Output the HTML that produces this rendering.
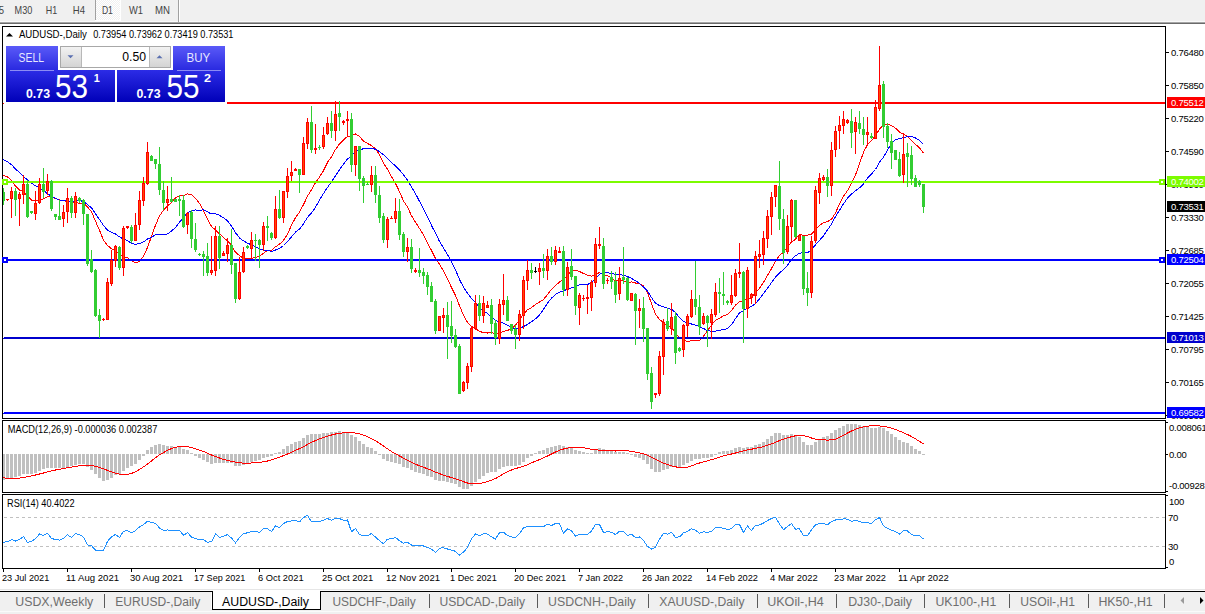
<!DOCTYPE html>
<html><head><meta charset="utf-8"><title>AUDUSD-,Daily</title>
<style>html,body{margin:0;padding:0;background:#fff;overflow:hidden}svg{display:block}text{white-space:pre}</style>
</head><body>
<svg width="1205" height="614" viewBox="0 0 1205 614" font-family="Liberation Sans, Arial, sans-serif">
<rect x="0" y="0" width="1205" height="21" fill="#f0f0f0"/>
<rect x="0" y="21" width="1205" height="1" fill="#f9f9f9"/>
<rect x="0" y="22" width="1205" height="1" fill="#a5a5a5"/>
<rect x="0" y="23" width="1205" height="1" fill="#6a6a6a"/>
<defs><pattern id="chk" width="2" height="2" patternUnits="userSpaceOnUse"><rect width="2" height="2" fill="#f0f0f0"/><rect width="1" height="1" fill="#fff"/><rect x="1" y="1" width="1" height="1" fill="#fff"/></pattern></defs>
<rect x="96" y="0" width="24" height="20" fill="url(#chk)"/>
<rect x="95" y="0" width="1" height="20" fill="#a0a0a0"/>
<rect x="120" y="0" width="1" height="20" fill="#ffffff"/>
<rect x="95" y="20" width="26" height="1" fill="#ffffff"/>
<rect x="178" y="0" width="1" height="22" fill="#a0a0a0"/>
<rect x="179" y="0" width="1" height="22" fill="#ffffff"/>
<text x="-1.2" y="13.9" font-size="10.1" fill="#444" textLength="5.3" lengthAdjust="spacingAndGlyphs">5</text>
<text x="14.6" y="13.9" font-size="10.1" fill="#444" textLength="17.7" lengthAdjust="spacingAndGlyphs">M30</text>
<text x="45.7" y="13.9" font-size="10.1" fill="#444" textLength="11.4" lengthAdjust="spacingAndGlyphs">H1</text>
<text x="72.8" y="13.9" font-size="10.1" fill="#444" textLength="12.2" lengthAdjust="spacingAndGlyphs">H4</text>
<text x="101.9" y="13.9" font-size="10.1" fill="#444" textLength="11" lengthAdjust="spacingAndGlyphs">D1</text>
<text x="129" y="13.9" font-size="10.1" fill="#444" textLength="14" lengthAdjust="spacingAndGlyphs">W1</text>
<text x="155" y="13.9" font-size="10.1" fill="#444" textLength="15" lengthAdjust="spacingAndGlyphs">MN</text>
<clipPath id="mainclip"><rect x="3" y="27" width="1162" height="391"/></clipPath>
<g clip-path="url(#mainclip)">
<polyline points="-0.5,175.0 3.5,175.5 7.5,176.8 11.5,180.7 15.5,186.1 19.5,190.0 23.5,191.6 27.5,196.1 31.5,200.0 35.5,201.1 39.5,199.8 43.5,198.8 47.5,196.8 51.5,197.0 55.5,198.6 59.5,199.9 63.5,200.8 67.5,201.3 71.5,202.2 75.5,202.4 79.5,203.5 83.5,203.3 87.5,207.0 91.5,211.8 95.5,221.2 99.5,230.3 103.5,240.2 107.5,245.5 111.5,248.7 115.5,250.6 119.5,254.6 123.5,256.8 127.5,257.8 131.5,260.9 135.5,262.7 139.5,261.7 143.5,256.0 147.5,247.5 151.5,236.4 155.5,225.2 159.5,215.9 163.5,210.2 167.5,205.9 171.5,202.6 175.5,197.9 179.5,195.8 183.5,195.8 187.5,193.9 191.5,194.8 195.5,198.3 199.5,203.4 203.5,210.8 207.5,218.8 211.5,226.5 215.5,229.9 219.5,233.8 223.5,237.6 227.5,240.7 231.5,245.3 235.5,252.3 239.5,255.6 243.5,258.3 247.5,259.0 251.5,258.3 255.5,257.4 259.5,256.5 263.5,253.2 267.5,250.2 271.5,250.2 275.5,246.8 279.5,244.2 283.5,240.4 287.5,234.1 291.5,225.1 295.5,217.7 299.5,212.1 303.5,204.6 307.5,196.2 311.5,189.6 315.5,182.8 319.5,177.1 323.5,170.6 327.5,162.4 331.5,156.7 335.5,149.4 339.5,144.0 343.5,140.1 347.5,136.3 351.5,135.9 355.5,134.0 359.5,136.5 363.5,141.0 367.5,143.5 371.5,145.5 375.5,148.9 379.5,154.7 383.5,163.0 387.5,169.3 391.5,176.7 395.5,183.5 399.5,191.6 403.5,201.0 407.5,206.9 411.5,215.7 415.5,222.2 419.5,228.5 423.5,234.9 427.5,242.9 431.5,250.5 435.5,258.5 439.5,264.1 443.5,270.9 447.5,278.7 451.5,287.5 455.5,295.6 459.5,305.7 463.5,315.3 467.5,322.3 471.5,326.5 475.5,328.6 479.5,331.4 483.5,332.6 487.5,333.0 491.5,332.5 495.5,333.9 499.5,333.1 503.5,331.3 507.5,330.3 511.5,329.1 515.5,325.0 519.5,320.1 523.5,313.9 527.5,309.8 531.5,307.6 535.5,304.5 539.5,302.0 543.5,299.5 547.5,294.7 551.5,289.3 555.5,285.5 559.5,282.0 563.5,279.7 567.5,275.2 571.5,271.0 575.5,270.4 579.5,271.5 583.5,273.5 587.5,275.3 591.5,276.1 595.5,274.4 599.5,272.6 603.5,274.5 607.5,275.8 611.5,278.0 615.5,281.0 619.5,280.3 623.5,281.1 627.5,282.8 631.5,281.9 635.5,283.0 639.5,283.7 643.5,285.9 647.5,292.4 651.5,303.7 655.5,314.3 659.5,319.6 663.5,322.6 667.5,326.0 671.5,327.6 675.5,332.9 679.5,338.0 683.5,339.8 687.5,341.5 691.5,340.7 695.5,340.5 699.5,340.4 703.5,336.3 707.5,330.6 711.5,325.0 715.5,320.3 719.5,318.2 723.5,315.8 727.5,314.7 731.5,310.7 735.5,305.2 739.5,301.4 743.5,300.8 747.5,298.7 751.5,297.8 755.5,292.8 759.5,288.4 763.5,282.4 767.5,275.4 771.5,268.6 775.5,261.0 779.5,255.5 783.5,252.0 787.5,247.1 791.5,241.9 795.5,239.3 799.5,234.1 803.5,235.4 807.5,235.2 811.5,234.2 815.5,229.6 819.5,225.4 823.5,222.6 827.5,221.7 831.5,219.2 835.5,213.0 839.5,203.9 843.5,196.3 847.5,190.6 851.5,183.1 855.5,175.0 859.5,163.6 863.5,152.3 867.5,144.6 871.5,140.7 875.5,135.6 879.5,129.1 883.5,124.9 887.5,124.2 891.5,125.7 895.5,128.1 899.5,132.1 903.5,134.5 907.5,136.2 911.5,140.2 915.5,144.3 919.5,147.9 923.5,153.2" fill="none" stroke="#ff0000" stroke-width="1" shape-rendering="crispEdges"/>
<polyline points="-0.5,157.8 3.5,159.6 7.5,161.8 11.5,164.6 15.5,169.1 19.5,172.4 23.5,176.4 27.5,180.0 31.5,183.3 35.5,185.7 39.5,188.0 43.5,190.4 47.5,193.8 51.5,196.3 55.5,198.3 59.5,200.3 63.5,200.9 67.5,201.1 71.5,201.4 75.5,200.8 79.5,200.5 83.5,201.5 87.5,204.5 91.5,207.9 95.5,213.8 99.5,219.5 103.5,225.4 107.5,230.1 111.5,232.2 115.5,233.9 119.5,236.9 123.5,239.1 127.5,240.7 131.5,243.5 135.5,244.3 139.5,243.6 143.5,241.9 147.5,239.0 151.5,237.2 155.5,234.9 159.5,234.5 163.5,234.6 167.5,233.9 171.5,230.9 175.5,227.6 179.5,222.2 183.5,217.7 187.5,212.7 191.5,210.6 195.5,210.0 199.5,210.4 203.5,209.8 207.5,211.9 211.5,214.0 215.5,213.8 219.5,215.3 223.5,217.8 227.5,220.8 231.5,226.1 235.5,232.7 239.5,237.9 243.5,240.9 247.5,243.1 251.5,245.0 255.5,246.9 259.5,248.9 263.5,250.2 267.5,250.2 271.5,251.4 275.5,250.0 279.5,248.4 283.5,245.5 287.5,241.6 291.5,236.9 295.5,232.1 299.5,229.1 303.5,223.7 307.5,217.4 311.5,212.8 315.5,207.3 319.5,200.1 323.5,193.5 327.5,187.4 331.5,181.8 335.5,175.8 339.5,169.8 343.5,164.0 347.5,158.9 351.5,155.9 355.5,151.6 359.5,150.1 363.5,148.6 367.5,148.2 371.5,148.2 375.5,149.3 379.5,151.6 383.5,154.7 387.5,158.3 391.5,162.8 395.5,165.8 399.5,169.9 403.5,174.8 407.5,180.2 411.5,187.1 415.5,193.7 419.5,201.3 423.5,208.9 427.5,216.7 431.5,225.4 435.5,233.3 439.5,241.4 443.5,247.9 447.5,254.6 451.5,261.8 455.5,269.9 459.5,279.4 463.5,287.3 467.5,293.3 471.5,298.5 475.5,302.5 479.5,307.5 483.5,310.8 487.5,313.4 491.5,317.0 495.5,320.2 499.5,321.9 503.5,323.2 507.5,325.3 511.5,327.5 515.5,329.0 519.5,328.3 523.5,326.6 527.5,324.4 531.5,321.8 535.5,318.8 539.5,315.1 543.5,309.2 547.5,303.2 551.5,298.2 555.5,294.5 559.5,292.1 563.5,290.9 567.5,289.2 571.5,287.8 575.5,286.9 579.5,284.9 583.5,284.7 587.5,284.5 591.5,282.7 595.5,278.6 599.5,274.3 603.5,272.8 607.5,272.8 611.5,273.3 615.5,274.4 619.5,274.7 623.5,275.2 627.5,276.6 631.5,278.4 635.5,280.7 639.5,283.5 643.5,287.1 647.5,291.2 651.5,297.6 655.5,303.1 659.5,305.6 663.5,306.9 667.5,308.3 671.5,309.3 675.5,312.6 679.5,317.6 683.5,321.5 687.5,323.1 691.5,324.0 695.5,325.2 699.5,326.7 703.5,328.5 707.5,330.6 711.5,331.3 715.5,331.2 719.5,330.3 723.5,329.7 727.5,328.5 731.5,324.7 735.5,318.6 739.5,312.9 743.5,310.5 747.5,308.0 751.5,306.4 755.5,303.5 759.5,298.8 763.5,293.5 767.5,288.3 771.5,282.6 775.5,277.2 779.5,273.0 783.5,269.5 787.5,265.3 791.5,259.5 795.5,255.8 799.5,253.1 803.5,252.8 807.5,252.7 811.5,249.8 815.5,244.8 819.5,240.3 823.5,235.8 827.5,229.9 831.5,224.2 835.5,216.5 839.5,210.3 843.5,203.8 847.5,198.2 851.5,194.2 855.5,190.6 859.5,187.9 863.5,183.9 867.5,178.2 871.5,173.9 875.5,169.5 879.5,162.3 883.5,157.1 887.5,150.1 891.5,143.4 895.5,139.5 899.5,138.8 903.5,137.6 907.5,136.6 911.5,136.3 915.5,138.0 919.5,140.5 923.5,144.3" fill="none" stroke="#0000ff" stroke-width="1" shape-rendering="crispEdges"/>
</g>
<g shape-rendering="crispEdges">
<rect x="3" y="103" width="1" height="1" fill="#ff0000"/>
<rect x="4" y="102" width="1162" height="2" fill="#ff0000"/>
<rect x="3" y="182" width="1" height="1" fill="#7cfc00"/>
<rect x="4" y="181" width="1162" height="2" fill="#7cfc00"/>
<rect x="3" y="260" width="1" height="1" fill="#0000ff"/>
<rect x="4" y="259" width="1162" height="2" fill="#0000ff"/>
<rect x="3" y="338" width="1" height="1" fill="#0000cd"/>
<rect x="4" y="337" width="1162" height="2" fill="#0000cd"/>
<rect x="3" y="413" width="1" height="1" fill="#0000ff"/>
<rect x="4" y="412" width="1162" height="2" fill="#0000ff"/>
<rect x="3" y="188" width="1" height="17" fill="#32cd32"/>
<rect x="2" y="192" width="3" height="9" fill="#32cd32"/>
<rect x="7" y="199" width="1" height="2" fill="#ff0000"/>
<rect x="6" y="199" width="3" height="1" fill="#ff0000"/>
<rect x="11" y="187" width="1" height="31" fill="#ff0000"/>
<rect x="10" y="191" width="3" height="8" fill="#ff0000"/>
<rect x="11" y="192" width="1" height="6" fill="#ff4a00"/>
<rect x="15" y="188" width="1" height="28" fill="#32cd32"/>
<rect x="14" y="191" width="3" height="9" fill="#32cd32"/>
<rect x="19" y="192" width="1" height="34" fill="#ff0000"/>
<rect x="18" y="194" width="3" height="5" fill="#ff0000"/>
<rect x="19" y="195" width="1" height="3" fill="#ff4a00"/>
<rect x="23" y="175" width="1" height="29" fill="#ff0000"/>
<rect x="22" y="184" width="3" height="11" fill="#ff0000"/>
<rect x="23" y="185" width="1" height="9" fill="#ff4a00"/>
<rect x="27" y="180" width="1" height="38" fill="#32cd32"/>
<rect x="26" y="184" width="3" height="33" fill="#32cd32"/>
<rect x="31" y="211" width="1" height="3" fill="#32cd32"/>
<rect x="30" y="211" width="3" height="2" fill="#32cd32"/>
<rect x="35" y="191" width="1" height="29" fill="#ff0000"/>
<rect x="34" y="203" width="3" height="11" fill="#ff0000"/>
<rect x="35" y="204" width="1" height="9" fill="#ff4a00"/>
<rect x="39" y="178" width="1" height="26" fill="#ff0000"/>
<rect x="38" y="184" width="3" height="19" fill="#ff0000"/>
<rect x="39" y="185" width="1" height="17" fill="#ff4a00"/>
<rect x="43" y="168" width="1" height="30" fill="#32cd32"/>
<rect x="42" y="184" width="3" height="8" fill="#32cd32"/>
<rect x="47" y="174" width="1" height="21" fill="#ff0000"/>
<rect x="46" y="181" width="3" height="10" fill="#ff0000"/>
<rect x="47" y="182" width="1" height="8" fill="#ff4a00"/>
<rect x="51" y="180" width="1" height="31" fill="#32cd32"/>
<rect x="50" y="181" width="3" height="28" fill="#32cd32"/>
<rect x="55" y="214" width="1" height="6" fill="#32cd32"/>
<rect x="54" y="214" width="3" height="3" fill="#32cd32"/>
<rect x="59" y="200" width="1" height="20" fill="#32cd32"/>
<rect x="58" y="216" width="3" height="4" fill="#32cd32"/>
<rect x="63" y="205" width="1" height="22" fill="#ff0000"/>
<rect x="62" y="212" width="3" height="7" fill="#ff0000"/>
<rect x="63" y="213" width="1" height="5" fill="#ff4a00"/>
<rect x="67" y="188" width="1" height="35" fill="#ff0000"/>
<rect x="66" y="198" width="3" height="14" fill="#ff0000"/>
<rect x="67" y="199" width="1" height="12" fill="#ff4a00"/>
<rect x="71" y="196" width="1" height="22" fill="#32cd32"/>
<rect x="70" y="198" width="3" height="15" fill="#32cd32"/>
<rect x="75" y="192" width="1" height="26" fill="#ff0000"/>
<rect x="74" y="196" width="3" height="17" fill="#ff0000"/>
<rect x="75" y="197" width="1" height="15" fill="#ff4a00"/>
<rect x="79" y="197" width="1" height="6" fill="#32cd32"/>
<rect x="78" y="198" width="3" height="3" fill="#32cd32"/>
<rect x="83" y="199" width="1" height="26" fill="#32cd32"/>
<rect x="82" y="200" width="3" height="14" fill="#32cd32"/>
<rect x="87" y="214" width="1" height="52" fill="#32cd32"/>
<rect x="86" y="214" width="3" height="50" fill="#32cd32"/>
<rect x="91" y="250" width="1" height="23" fill="#32cd32"/>
<rect x="90" y="259" width="3" height="13" fill="#32cd32"/>
<rect x="95" y="269" width="1" height="48" fill="#32cd32"/>
<rect x="94" y="270" width="3" height="46" fill="#32cd32"/>
<rect x="99" y="309" width="1" height="29" fill="#32cd32"/>
<rect x="98" y="315" width="3" height="6" fill="#32cd32"/>
<rect x="103" y="318" width="1" height="3" fill="#ff0000"/>
<rect x="102" y="319" width="3" height="1" fill="#ff0000"/>
<rect x="107" y="278" width="1" height="42" fill="#ff0000"/>
<rect x="106" y="282" width="3" height="38" fill="#ff0000"/>
<rect x="107" y="283" width="1" height="36" fill="#ff4a00"/>
<rect x="111" y="250" width="1" height="36" fill="#ff0000"/>
<rect x="110" y="260" width="3" height="24" fill="#ff0000"/>
<rect x="111" y="261" width="1" height="22" fill="#ff4a00"/>
<rect x="115" y="245" width="1" height="22" fill="#ff0000"/>
<rect x="114" y="246" width="3" height="15" fill="#ff0000"/>
<rect x="115" y="247" width="1" height="13" fill="#ff4a00"/>
<rect x="119" y="246" width="1" height="24" fill="#32cd32"/>
<rect x="118" y="247" width="3" height="21" fill="#32cd32"/>
<rect x="123" y="226" width="1" height="50" fill="#ff0000"/>
<rect x="122" y="228" width="3" height="40" fill="#ff0000"/>
<rect x="123" y="229" width="1" height="38" fill="#ff4a00"/>
<rect x="127" y="226" width="1" height="3" fill="#ff0000"/>
<rect x="126" y="226" width="3" height="2" fill="#ff0000"/>
<rect x="131" y="225" width="1" height="18" fill="#32cd32"/>
<rect x="130" y="227" width="3" height="14" fill="#32cd32"/>
<rect x="135" y="213" width="1" height="28" fill="#ff0000"/>
<rect x="134" y="225" width="3" height="16" fill="#ff0000"/>
<rect x="135" y="226" width="1" height="14" fill="#ff4a00"/>
<rect x="139" y="191" width="1" height="39" fill="#ff0000"/>
<rect x="138" y="200" width="3" height="25" fill="#ff0000"/>
<rect x="139" y="201" width="1" height="23" fill="#ff4a00"/>
<rect x="143" y="177" width="1" height="29" fill="#ff0000"/>
<rect x="142" y="183" width="3" height="18" fill="#ff0000"/>
<rect x="143" y="184" width="1" height="16" fill="#ff4a00"/>
<rect x="147" y="142" width="1" height="43" fill="#ff0000"/>
<rect x="146" y="152" width="3" height="32" fill="#ff0000"/>
<rect x="147" y="153" width="1" height="30" fill="#ff4a00"/>
<rect x="151" y="155" width="1" height="6" fill="#32cd32"/>
<rect x="150" y="156" width="3" height="5" fill="#32cd32"/>
<rect x="155" y="159" width="1" height="10" fill="#32cd32"/>
<rect x="154" y="159" width="3" height="5" fill="#32cd32"/>
<rect x="159" y="147" width="1" height="48" fill="#32cd32"/>
<rect x="158" y="164" width="3" height="26" fill="#32cd32"/>
<rect x="163" y="181" width="1" height="29" fill="#32cd32"/>
<rect x="162" y="190" width="3" height="13" fill="#32cd32"/>
<rect x="167" y="186" width="1" height="25" fill="#ff0000"/>
<rect x="166" y="199" width="3" height="4" fill="#ff0000"/>
<rect x="167" y="200" width="1" height="2" fill="#ff4a00"/>
<rect x="171" y="177" width="1" height="25" fill="#32cd32"/>
<rect x="170" y="199" width="3" height="3" fill="#32cd32"/>
<rect x="175" y="199" width="1" height="3" fill="#32cd32"/>
<rect x="174" y="199" width="3" height="3" fill="#32cd32"/>
<rect x="179" y="195" width="1" height="21" fill="#32cd32"/>
<rect x="178" y="199" width="3" height="2" fill="#32cd32"/>
<rect x="183" y="195" width="1" height="33" fill="#32cd32"/>
<rect x="182" y="200" width="3" height="27" fill="#32cd32"/>
<rect x="187" y="212" width="1" height="22" fill="#ff0000"/>
<rect x="186" y="213" width="3" height="12" fill="#ff0000"/>
<rect x="187" y="214" width="1" height="10" fill="#ff4a00"/>
<rect x="191" y="210" width="1" height="38" fill="#32cd32"/>
<rect x="190" y="212" width="3" height="27" fill="#32cd32"/>
<rect x="195" y="223" width="1" height="29" fill="#32cd32"/>
<rect x="194" y="239" width="3" height="11" fill="#32cd32"/>
<rect x="199" y="253" width="1" height="3" fill="#32cd32"/>
<rect x="198" y="254" width="3" height="1" fill="#32cd32"/>
<rect x="203" y="251" width="1" height="25" fill="#32cd32"/>
<rect x="202" y="254" width="3" height="3" fill="#32cd32"/>
<rect x="207" y="243" width="1" height="33" fill="#32cd32"/>
<rect x="206" y="256" width="3" height="17" fill="#32cd32"/>
<rect x="211" y="236" width="1" height="39" fill="#ff0000"/>
<rect x="210" y="270" width="3" height="3" fill="#ff0000"/>
<rect x="211" y="271" width="1" height="1" fill="#ff4a00"/>
<rect x="215" y="226" width="1" height="50" fill="#ff0000"/>
<rect x="214" y="236" width="3" height="35" fill="#ff0000"/>
<rect x="215" y="237" width="1" height="33" fill="#ff4a00"/>
<rect x="219" y="226" width="1" height="43" fill="#32cd32"/>
<rect x="218" y="236" width="3" height="22" fill="#32cd32"/>
<rect x="223" y="251" width="1" height="5" fill="#ff0000"/>
<rect x="222" y="253" width="3" height="3" fill="#ff0000"/>
<rect x="223" y="254" width="1" height="1" fill="#ff4a00"/>
<rect x="227" y="238" width="1" height="24" fill="#ff0000"/>
<rect x="226" y="245" width="3" height="9" fill="#ff0000"/>
<rect x="227" y="246" width="1" height="7" fill="#ff4a00"/>
<rect x="231" y="229" width="1" height="45" fill="#32cd32"/>
<rect x="230" y="245" width="3" height="20" fill="#32cd32"/>
<rect x="235" y="263" width="1" height="40" fill="#32cd32"/>
<rect x="234" y="263" width="3" height="36" fill="#32cd32"/>
<rect x="239" y="257" width="1" height="43" fill="#ff0000"/>
<rect x="238" y="272" width="3" height="27" fill="#ff0000"/>
<rect x="239" y="273" width="1" height="25" fill="#ff4a00"/>
<rect x="243" y="247" width="1" height="26" fill="#ff0000"/>
<rect x="242" y="252" width="3" height="20" fill="#ff0000"/>
<rect x="243" y="253" width="1" height="18" fill="#ff4a00"/>
<rect x="247" y="245" width="1" height="4" fill="#32cd32"/>
<rect x="246" y="246" width="3" height="2" fill="#32cd32"/>
<rect x="251" y="232" width="1" height="27" fill="#ff0000"/>
<rect x="250" y="240" width="3" height="9" fill="#ff0000"/>
<rect x="251" y="241" width="1" height="7" fill="#ff4a00"/>
<rect x="255" y="234" width="1" height="27" fill="#32cd32"/>
<rect x="254" y="240" width="3" height="1" fill="#32cd32"/>
<rect x="259" y="239" width="1" height="29" fill="#32cd32"/>
<rect x="258" y="240" width="3" height="5" fill="#32cd32"/>
<rect x="263" y="222" width="1" height="29" fill="#ff0000"/>
<rect x="262" y="226" width="3" height="19" fill="#ff0000"/>
<rect x="263" y="227" width="1" height="17" fill="#ff4a00"/>
<rect x="267" y="216" width="1" height="25" fill="#32cd32"/>
<rect x="266" y="226" width="3" height="2" fill="#32cd32"/>
<rect x="271" y="232" width="1" height="8" fill="#32cd32"/>
<rect x="270" y="233" width="3" height="5" fill="#32cd32"/>
<rect x="275" y="196" width="1" height="43" fill="#ff0000"/>
<rect x="274" y="209" width="3" height="29" fill="#ff0000"/>
<rect x="275" y="210" width="1" height="27" fill="#ff4a00"/>
<rect x="279" y="190" width="1" height="29" fill="#32cd32"/>
<rect x="278" y="209" width="3" height="9" fill="#32cd32"/>
<rect x="283" y="191" width="1" height="32" fill="#ff0000"/>
<rect x="282" y="191" width="3" height="27" fill="#ff0000"/>
<rect x="283" y="192" width="1" height="25" fill="#ff4a00"/>
<rect x="287" y="168" width="1" height="30" fill="#ff0000"/>
<rect x="286" y="176" width="3" height="16" fill="#ff0000"/>
<rect x="287" y="177" width="1" height="14" fill="#ff4a00"/>
<rect x="291" y="161" width="1" height="20" fill="#ff0000"/>
<rect x="290" y="172" width="3" height="4" fill="#ff0000"/>
<rect x="291" y="173" width="1" height="2" fill="#ff4a00"/>
<rect x="295" y="168" width="1" height="3" fill="#ff0000"/>
<rect x="294" y="169" width="3" height="2" fill="#ff0000"/>
<rect x="299" y="169" width="1" height="24" fill="#32cd32"/>
<rect x="298" y="169" width="3" height="6" fill="#32cd32"/>
<rect x="303" y="137" width="1" height="38" fill="#ff0000"/>
<rect x="302" y="143" width="3" height="32" fill="#ff0000"/>
<rect x="303" y="144" width="1" height="30" fill="#ff4a00"/>
<rect x="307" y="118" width="1" height="31" fill="#ff0000"/>
<rect x="306" y="122" width="3" height="22" fill="#ff0000"/>
<rect x="307" y="123" width="1" height="20" fill="#ff4a00"/>
<rect x="311" y="106" width="1" height="47" fill="#32cd32"/>
<rect x="310" y="122" width="3" height="28" fill="#32cd32"/>
<rect x="315" y="124" width="1" height="30" fill="#ff0000"/>
<rect x="314" y="148" width="3" height="2" fill="#ff0000"/>
<rect x="319" y="145" width="1" height="5" fill="#32cd32"/>
<rect x="318" y="147" width="3" height="1" fill="#32cd32"/>
<rect x="323" y="127" width="1" height="22" fill="#ff0000"/>
<rect x="322" y="135" width="3" height="12" fill="#ff0000"/>
<rect x="323" y="136" width="1" height="10" fill="#ff4a00"/>
<rect x="327" y="117" width="1" height="18" fill="#ff0000"/>
<rect x="326" y="123" width="3" height="11" fill="#ff0000"/>
<rect x="327" y="124" width="1" height="9" fill="#ff4a00"/>
<rect x="331" y="111" width="1" height="27" fill="#32cd32"/>
<rect x="330" y="123" width="3" height="8" fill="#32cd32"/>
<rect x="335" y="101" width="1" height="40" fill="#ff0000"/>
<rect x="334" y="114" width="3" height="17" fill="#ff0000"/>
<rect x="335" y="115" width="1" height="15" fill="#ff4a00"/>
<rect x="339" y="101" width="1" height="30" fill="#32cd32"/>
<rect x="338" y="113" width="3" height="4" fill="#32cd32"/>
<rect x="343" y="120" width="1" height="5" fill="#ff0000"/>
<rect x="342" y="121" width="3" height="2" fill="#ff0000"/>
<rect x="347" y="111" width="1" height="26" fill="#ff0000"/>
<rect x="346" y="119" width="3" height="2" fill="#ff0000"/>
<rect x="351" y="113" width="1" height="59" fill="#32cd32"/>
<rect x="350" y="119" width="3" height="46" fill="#32cd32"/>
<rect x="355" y="146" width="1" height="30" fill="#ff0000"/>
<rect x="354" y="146" width="3" height="19" fill="#ff0000"/>
<rect x="355" y="147" width="1" height="17" fill="#ff4a00"/>
<rect x="359" y="146" width="1" height="45" fill="#32cd32"/>
<rect x="358" y="146" width="3" height="33" fill="#32cd32"/>
<rect x="363" y="176" width="1" height="27" fill="#32cd32"/>
<rect x="362" y="178" width="3" height="8" fill="#32cd32"/>
<rect x="367" y="182" width="1" height="3" fill="#32cd32"/>
<rect x="366" y="184" width="3" height="1" fill="#32cd32"/>
<rect x="371" y="166" width="1" height="26" fill="#ff0000"/>
<rect x="370" y="175" width="3" height="10" fill="#ff0000"/>
<rect x="371" y="176" width="1" height="8" fill="#ff4a00"/>
<rect x="375" y="166" width="1" height="37" fill="#32cd32"/>
<rect x="374" y="175" width="3" height="20" fill="#32cd32"/>
<rect x="379" y="186" width="1" height="37" fill="#32cd32"/>
<rect x="378" y="195" width="3" height="23" fill="#32cd32"/>
<rect x="383" y="213" width="1" height="30" fill="#32cd32"/>
<rect x="382" y="216" width="3" height="24" fill="#32cd32"/>
<rect x="387" y="217" width="1" height="31" fill="#ff0000"/>
<rect x="386" y="219" width="3" height="21" fill="#ff0000"/>
<rect x="387" y="220" width="1" height="19" fill="#ff4a00"/>
<rect x="391" y="216" width="1" height="3" fill="#ff0000"/>
<rect x="390" y="218" width="3" height="1" fill="#ff0000"/>
<rect x="395" y="198" width="1" height="25" fill="#ff0000"/>
<rect x="394" y="211" width="3" height="8" fill="#ff0000"/>
<rect x="395" y="212" width="1" height="6" fill="#ff4a00"/>
<rect x="399" y="199" width="1" height="41" fill="#32cd32"/>
<rect x="398" y="211" width="3" height="24" fill="#32cd32"/>
<rect x="403" y="232" width="1" height="25" fill="#32cd32"/>
<rect x="402" y="234" width="3" height="18" fill="#32cd32"/>
<rect x="407" y="238" width="1" height="24" fill="#ff0000"/>
<rect x="406" y="247" width="3" height="5" fill="#ff0000"/>
<rect x="407" y="248" width="1" height="3" fill="#ff4a00"/>
<rect x="411" y="239" width="1" height="34" fill="#32cd32"/>
<rect x="410" y="247" width="3" height="22" fill="#32cd32"/>
<rect x="415" y="268" width="1" height="5" fill="#ff0000"/>
<rect x="414" y="270" width="3" height="2" fill="#ff0000"/>
<rect x="419" y="248" width="1" height="29" fill="#32cd32"/>
<rect x="418" y="270" width="3" height="3" fill="#32cd32"/>
<rect x="423" y="268" width="1" height="16" fill="#32cd32"/>
<rect x="422" y="272" width="3" height="4" fill="#32cd32"/>
<rect x="427" y="272" width="1" height="23" fill="#32cd32"/>
<rect x="426" y="275" width="3" height="12" fill="#32cd32"/>
<rect x="431" y="282" width="1" height="20" fill="#32cd32"/>
<rect x="430" y="286" width="3" height="16" fill="#32cd32"/>
<rect x="435" y="299" width="1" height="35" fill="#32cd32"/>
<rect x="434" y="301" width="3" height="30" fill="#32cd32"/>
<rect x="439" y="316" width="1" height="15" fill="#ff0000"/>
<rect x="438" y="316" width="3" height="15" fill="#ff0000"/>
<rect x="439" y="317" width="1" height="13" fill="#ff4a00"/>
<rect x="443" y="308" width="1" height="25" fill="#ff0000"/>
<rect x="442" y="315" width="3" height="3" fill="#ff0000"/>
<rect x="443" y="316" width="1" height="1" fill="#ff4a00"/>
<rect x="447" y="302" width="1" height="57" fill="#32cd32"/>
<rect x="446" y="315" width="3" height="12" fill="#32cd32"/>
<rect x="451" y="301" width="1" height="42" fill="#32cd32"/>
<rect x="450" y="326" width="3" height="10" fill="#32cd32"/>
<rect x="455" y="329" width="1" height="19" fill="#32cd32"/>
<rect x="454" y="335" width="3" height="12" fill="#32cd32"/>
<rect x="459" y="344" width="1" height="50" fill="#32cd32"/>
<rect x="458" y="346" width="3" height="48" fill="#32cd32"/>
<rect x="463" y="381" width="1" height="11" fill="#ff0000"/>
<rect x="462" y="382" width="3" height="9" fill="#ff0000"/>
<rect x="463" y="383" width="1" height="7" fill="#ff4a00"/>
<rect x="467" y="363" width="1" height="26" fill="#ff0000"/>
<rect x="466" y="366" width="3" height="17" fill="#ff0000"/>
<rect x="467" y="367" width="1" height="15" fill="#ff4a00"/>
<rect x="471" y="326" width="1" height="46" fill="#ff0000"/>
<rect x="470" y="328" width="3" height="39" fill="#ff0000"/>
<rect x="471" y="329" width="1" height="37" fill="#ff4a00"/>
<rect x="475" y="295" width="1" height="35" fill="#ff0000"/>
<rect x="474" y="303" width="3" height="26" fill="#ff0000"/>
<rect x="475" y="304" width="1" height="24" fill="#ff4a00"/>
<rect x="479" y="295" width="1" height="26" fill="#32cd32"/>
<rect x="478" y="303" width="3" height="13" fill="#32cd32"/>
<rect x="483" y="296" width="1" height="27" fill="#ff0000"/>
<rect x="482" y="303" width="3" height="13" fill="#ff0000"/>
<rect x="483" y="304" width="1" height="11" fill="#ff4a00"/>
<rect x="487" y="301" width="1" height="7" fill="#ff0000"/>
<rect x="486" y="305" width="3" height="3" fill="#ff0000"/>
<rect x="487" y="306" width="1" height="1" fill="#ff4a00"/>
<rect x="491" y="299" width="1" height="35" fill="#32cd32"/>
<rect x="490" y="305" width="3" height="19" fill="#32cd32"/>
<rect x="495" y="320" width="1" height="25" fill="#32cd32"/>
<rect x="494" y="323" width="3" height="15" fill="#32cd32"/>
<rect x="499" y="299" width="1" height="45" fill="#ff0000"/>
<rect x="498" y="304" width="3" height="35" fill="#ff0000"/>
<rect x="499" y="305" width="1" height="33" fill="#ff4a00"/>
<rect x="503" y="274" width="1" height="41" fill="#ff0000"/>
<rect x="502" y="300" width="3" height="5" fill="#ff0000"/>
<rect x="503" y="301" width="1" height="3" fill="#ff4a00"/>
<rect x="507" y="296" width="1" height="25" fill="#32cd32"/>
<rect x="506" y="300" width="3" height="21" fill="#32cd32"/>
<rect x="511" y="324" width="1" height="10" fill="#32cd32"/>
<rect x="510" y="324" width="3" height="7" fill="#32cd32"/>
<rect x="515" y="325" width="1" height="24" fill="#32cd32"/>
<rect x="514" y="329" width="3" height="6" fill="#32cd32"/>
<rect x="519" y="310" width="1" height="31" fill="#ff0000"/>
<rect x="518" y="314" width="3" height="21" fill="#ff0000"/>
<rect x="519" y="315" width="1" height="19" fill="#ff4a00"/>
<rect x="523" y="276" width="1" height="53" fill="#ff0000"/>
<rect x="522" y="280" width="3" height="36" fill="#ff0000"/>
<rect x="523" y="281" width="1" height="34" fill="#ff4a00"/>
<rect x="527" y="260" width="1" height="30" fill="#ff0000"/>
<rect x="526" y="270" width="3" height="11" fill="#ff0000"/>
<rect x="527" y="271" width="1" height="9" fill="#ff4a00"/>
<rect x="531" y="263" width="1" height="16" fill="#32cd32"/>
<rect x="530" y="270" width="3" height="3" fill="#32cd32"/>
<rect x="535" y="267" width="1" height="6" fill="#000"/>
<rect x="534" y="271" width="3" height="1" fill="#000"/>
<rect x="539" y="263" width="1" height="22" fill="#ff0000"/>
<rect x="538" y="268" width="3" height="4" fill="#ff0000"/>
<rect x="539" y="269" width="1" height="2" fill="#ff4a00"/>
<rect x="543" y="254" width="1" height="24" fill="#32cd32"/>
<rect x="542" y="268" width="3" height="3" fill="#32cd32"/>
<rect x="547" y="249" width="1" height="31" fill="#ff0000"/>
<rect x="546" y="256" width="3" height="15" fill="#ff0000"/>
<rect x="547" y="257" width="1" height="13" fill="#ff4a00"/>
<rect x="551" y="247" width="1" height="18" fill="#32cd32"/>
<rect x="550" y="256" width="3" height="6" fill="#32cd32"/>
<rect x="555" y="246" width="1" height="19" fill="#ff0000"/>
<rect x="554" y="250" width="3" height="12" fill="#ff0000"/>
<rect x="555" y="251" width="1" height="10" fill="#ff4a00"/>
<rect x="559" y="247" width="1" height="6" fill="#ff0000"/>
<rect x="558" y="251" width="3" height="2" fill="#ff0000"/>
<rect x="563" y="246" width="1" height="50" fill="#32cd32"/>
<rect x="562" y="251" width="3" height="39" fill="#32cd32"/>
<rect x="567" y="262" width="1" height="34" fill="#ff0000"/>
<rect x="566" y="267" width="3" height="23" fill="#ff0000"/>
<rect x="567" y="268" width="1" height="21" fill="#ff4a00"/>
<rect x="571" y="249" width="1" height="31" fill="#32cd32"/>
<rect x="570" y="266" width="3" height="11" fill="#32cd32"/>
<rect x="575" y="276" width="1" height="39" fill="#32cd32"/>
<rect x="574" y="276" width="3" height="30" fill="#32cd32"/>
<rect x="579" y="293" width="1" height="32" fill="#ff0000"/>
<rect x="578" y="295" width="3" height="13" fill="#ff0000"/>
<rect x="579" y="296" width="1" height="11" fill="#ff4a00"/>
<rect x="583" y="295" width="1" height="6" fill="#ff0000"/>
<rect x="582" y="298" width="3" height="1" fill="#ff0000"/>
<rect x="587" y="285" width="1" height="29" fill="#ff0000"/>
<rect x="586" y="297" width="3" height="2" fill="#ff0000"/>
<rect x="591" y="280" width="1" height="31" fill="#ff0000"/>
<rect x="590" y="282" width="3" height="16" fill="#ff0000"/>
<rect x="591" y="283" width="1" height="14" fill="#ff4a00"/>
<rect x="595" y="238" width="1" height="49" fill="#ff0000"/>
<rect x="594" y="244" width="3" height="39" fill="#ff0000"/>
<rect x="595" y="245" width="1" height="37" fill="#ff4a00"/>
<rect x="599" y="227" width="1" height="22" fill="#ff0000"/>
<rect x="598" y="244" width="3" height="2" fill="#ff0000"/>
<rect x="603" y="238" width="1" height="51" fill="#32cd32"/>
<rect x="602" y="246" width="3" height="38" fill="#32cd32"/>
<rect x="607" y="278" width="1" height="6" fill="#ff0000"/>
<rect x="606" y="280" width="3" height="1" fill="#ff0000"/>
<rect x="611" y="271" width="1" height="18" fill="#32cd32"/>
<rect x="610" y="277" width="3" height="5" fill="#32cd32"/>
<rect x="615" y="272" width="1" height="31" fill="#32cd32"/>
<rect x="614" y="281" width="3" height="14" fill="#32cd32"/>
<rect x="619" y="267" width="1" height="33" fill="#ff0000"/>
<rect x="618" y="278" width="3" height="16" fill="#ff0000"/>
<rect x="619" y="279" width="1" height="14" fill="#ff4a00"/>
<rect x="623" y="247" width="1" height="37" fill="#32cd32"/>
<rect x="622" y="277" width="3" height="3" fill="#32cd32"/>
<rect x="627" y="277" width="1" height="24" fill="#32cd32"/>
<rect x="626" y="278" width="3" height="22" fill="#32cd32"/>
<rect x="631" y="293" width="1" height="8" fill="#ff0000"/>
<rect x="630" y="293" width="3" height="8" fill="#ff0000"/>
<rect x="631" y="294" width="1" height="6" fill="#ff4a00"/>
<rect x="635" y="293" width="1" height="52" fill="#32cd32"/>
<rect x="634" y="294" width="3" height="17" fill="#32cd32"/>
<rect x="639" y="299" width="1" height="29" fill="#ff0000"/>
<rect x="638" y="308" width="3" height="3" fill="#ff0000"/>
<rect x="639" y="309" width="1" height="1" fill="#ff4a00"/>
<rect x="643" y="297" width="1" height="45" fill="#32cd32"/>
<rect x="642" y="308" width="3" height="21" fill="#32cd32"/>
<rect x="647" y="328" width="1" height="52" fill="#32cd32"/>
<rect x="646" y="328" width="3" height="46" fill="#32cd32"/>
<rect x="651" y="367" width="1" height="42" fill="#32cd32"/>
<rect x="650" y="373" width="3" height="29" fill="#32cd32"/>
<rect x="655" y="393" width="1" height="5" fill="#ff0000"/>
<rect x="654" y="393" width="3" height="2" fill="#ff0000"/>
<rect x="659" y="351" width="1" height="45" fill="#ff0000"/>
<rect x="658" y="356" width="3" height="38" fill="#ff0000"/>
<rect x="659" y="357" width="1" height="36" fill="#ff4a00"/>
<rect x="663" y="319" width="1" height="56" fill="#ff0000"/>
<rect x="662" y="322" width="3" height="35" fill="#ff0000"/>
<rect x="663" y="323" width="1" height="33" fill="#ff4a00"/>
<rect x="667" y="308" width="1" height="23" fill="#32cd32"/>
<rect x="666" y="321" width="3" height="8" fill="#32cd32"/>
<rect x="671" y="303" width="1" height="32" fill="#ff0000"/>
<rect x="670" y="317" width="3" height="12" fill="#ff0000"/>
<rect x="671" y="318" width="1" height="10" fill="#ff4a00"/>
<rect x="675" y="312" width="1" height="52" fill="#32cd32"/>
<rect x="674" y="316" width="3" height="37" fill="#32cd32"/>
<rect x="679" y="347" width="1" height="5" fill="#32cd32"/>
<rect x="678" y="348" width="3" height="3" fill="#32cd32"/>
<rect x="683" y="324" width="1" height="33" fill="#ff0000"/>
<rect x="682" y="325" width="3" height="25" fill="#ff0000"/>
<rect x="683" y="326" width="1" height="23" fill="#ff4a00"/>
<rect x="687" y="314" width="1" height="23" fill="#ff0000"/>
<rect x="686" y="316" width="3" height="10" fill="#ff0000"/>
<rect x="687" y="317" width="1" height="8" fill="#ff4a00"/>
<rect x="691" y="290" width="1" height="28" fill="#ff0000"/>
<rect x="690" y="299" width="3" height="18" fill="#ff0000"/>
<rect x="691" y="300" width="1" height="16" fill="#ff4a00"/>
<rect x="695" y="261" width="1" height="54" fill="#32cd32"/>
<rect x="694" y="299" width="3" height="8" fill="#32cd32"/>
<rect x="699" y="295" width="1" height="40" fill="#32cd32"/>
<rect x="698" y="307" width="3" height="20" fill="#32cd32"/>
<rect x="703" y="313" width="1" height="12" fill="#ff0000"/>
<rect x="702" y="316" width="3" height="8" fill="#ff0000"/>
<rect x="703" y="317" width="1" height="6" fill="#ff4a00"/>
<rect x="707" y="315" width="1" height="32" fill="#32cd32"/>
<rect x="706" y="316" width="3" height="7" fill="#32cd32"/>
<rect x="711" y="309" width="1" height="30" fill="#ff0000"/>
<rect x="710" y="314" width="3" height="9" fill="#ff0000"/>
<rect x="711" y="315" width="1" height="7" fill="#ff4a00"/>
<rect x="715" y="283" width="1" height="34" fill="#ff0000"/>
<rect x="714" y="292" width="3" height="23" fill="#ff0000"/>
<rect x="715" y="293" width="1" height="21" fill="#ff4a00"/>
<rect x="719" y="278" width="1" height="35" fill="#32cd32"/>
<rect x="718" y="292" width="3" height="2" fill="#32cd32"/>
<rect x="723" y="272" width="1" height="33" fill="#32cd32"/>
<rect x="722" y="294" width="3" height="2" fill="#32cd32"/>
<rect x="727" y="300" width="1" height="5" fill="#32cd32"/>
<rect x="726" y="301" width="3" height="2" fill="#32cd32"/>
<rect x="731" y="275" width="1" height="30" fill="#ff0000"/>
<rect x="730" y="295" width="3" height="8" fill="#ff0000"/>
<rect x="731" y="296" width="1" height="6" fill="#ff4a00"/>
<rect x="735" y="269" width="1" height="28" fill="#ff0000"/>
<rect x="734" y="273" width="3" height="23" fill="#ff0000"/>
<rect x="735" y="274" width="1" height="21" fill="#ff4a00"/>
<rect x="739" y="243" width="1" height="35" fill="#ff0000"/>
<rect x="738" y="272" width="3" height="2" fill="#ff0000"/>
<rect x="743" y="271" width="1" height="72" fill="#32cd32"/>
<rect x="742" y="272" width="3" height="37" fill="#32cd32"/>
<rect x="747" y="267" width="1" height="51" fill="#ff0000"/>
<rect x="746" y="270" width="3" height="39" fill="#ff0000"/>
<rect x="747" y="271" width="1" height="37" fill="#ff4a00"/>
<rect x="751" y="293" width="1" height="11" fill="#ff0000"/>
<rect x="750" y="294" width="3" height="4" fill="#ff0000"/>
<rect x="751" y="295" width="1" height="2" fill="#ff4a00"/>
<rect x="755" y="251" width="1" height="53" fill="#ff0000"/>
<rect x="754" y="256" width="3" height="40" fill="#ff0000"/>
<rect x="755" y="257" width="1" height="38" fill="#ff4a00"/>
<rect x="759" y="240" width="1" height="28" fill="#ff0000"/>
<rect x="758" y="254" width="3" height="3" fill="#ff0000"/>
<rect x="759" y="255" width="1" height="1" fill="#ff4a00"/>
<rect x="763" y="231" width="1" height="34" fill="#ff0000"/>
<rect x="762" y="238" width="3" height="17" fill="#ff0000"/>
<rect x="763" y="239" width="1" height="15" fill="#ff4a00"/>
<rect x="767" y="210" width="1" height="38" fill="#ff0000"/>
<rect x="766" y="216" width="3" height="23" fill="#ff0000"/>
<rect x="767" y="217" width="1" height="21" fill="#ff4a00"/>
<rect x="771" y="192" width="1" height="43" fill="#ff0000"/>
<rect x="770" y="197" width="3" height="20" fill="#ff0000"/>
<rect x="771" y="198" width="1" height="18" fill="#ff4a00"/>
<rect x="775" y="185" width="1" height="22" fill="#ff0000"/>
<rect x="774" y="185" width="3" height="12" fill="#ff0000"/>
<rect x="775" y="186" width="1" height="10" fill="#ff4a00"/>
<rect x="779" y="161" width="1" height="69" fill="#32cd32"/>
<rect x="778" y="186" width="3" height="33" fill="#32cd32"/>
<rect x="783" y="209" width="1" height="55" fill="#32cd32"/>
<rect x="782" y="219" width="3" height="34" fill="#32cd32"/>
<rect x="787" y="215" width="1" height="39" fill="#ff0000"/>
<rect x="786" y="226" width="3" height="26" fill="#ff0000"/>
<rect x="787" y="227" width="1" height="24" fill="#ff4a00"/>
<rect x="791" y="199" width="1" height="42" fill="#ff0000"/>
<rect x="790" y="200" width="3" height="27" fill="#ff0000"/>
<rect x="791" y="201" width="1" height="25" fill="#ff4a00"/>
<rect x="795" y="200" width="1" height="38" fill="#32cd32"/>
<rect x="794" y="200" width="3" height="37" fill="#32cd32"/>
<rect x="799" y="234" width="1" height="7" fill="#ff0000"/>
<rect x="798" y="235" width="3" height="6" fill="#ff0000"/>
<rect x="799" y="236" width="1" height="4" fill="#ff4a00"/>
<rect x="803" y="236" width="1" height="59" fill="#32cd32"/>
<rect x="802" y="236" width="3" height="53" fill="#32cd32"/>
<rect x="807" y="272" width="1" height="34" fill="#32cd32"/>
<rect x="806" y="288" width="3" height="5" fill="#32cd32"/>
<rect x="811" y="236" width="1" height="62" fill="#ff0000"/>
<rect x="810" y="241" width="3" height="52" fill="#ff0000"/>
<rect x="811" y="242" width="1" height="50" fill="#ff4a00"/>
<rect x="815" y="186" width="1" height="57" fill="#ff0000"/>
<rect x="814" y="190" width="3" height="51" fill="#ff0000"/>
<rect x="815" y="191" width="1" height="49" fill="#ff4a00"/>
<rect x="819" y="173" width="1" height="31" fill="#ff0000"/>
<rect x="818" y="178" width="3" height="15" fill="#ff0000"/>
<rect x="819" y="179" width="1" height="13" fill="#ff4a00"/>
<rect x="823" y="175" width="1" height="6" fill="#ff0000"/>
<rect x="822" y="177" width="3" height="3" fill="#ff0000"/>
<rect x="823" y="178" width="1" height="1" fill="#ff4a00"/>
<rect x="827" y="169" width="1" height="28" fill="#32cd32"/>
<rect x="826" y="177" width="3" height="9" fill="#32cd32"/>
<rect x="831" y="142" width="1" height="54" fill="#ff0000"/>
<rect x="830" y="150" width="3" height="36" fill="#ff0000"/>
<rect x="831" y="151" width="1" height="34" fill="#ff4a00"/>
<rect x="835" y="126" width="1" height="31" fill="#ff0000"/>
<rect x="834" y="131" width="3" height="19" fill="#ff0000"/>
<rect x="835" y="132" width="1" height="17" fill="#ff4a00"/>
<rect x="839" y="116" width="1" height="33" fill="#ff0000"/>
<rect x="838" y="125" width="3" height="6" fill="#ff0000"/>
<rect x="839" y="126" width="1" height="4" fill="#ff4a00"/>
<rect x="843" y="111" width="1" height="23" fill="#ff0000"/>
<rect x="842" y="119" width="3" height="7" fill="#ff0000"/>
<rect x="843" y="120" width="1" height="5" fill="#ff4a00"/>
<rect x="847" y="119" width="1" height="5" fill="#ff0000"/>
<rect x="846" y="120" width="3" height="3" fill="#ff0000"/>
<rect x="847" y="121" width="1" height="1" fill="#ff4a00"/>
<rect x="851" y="109" width="1" height="39" fill="#32cd32"/>
<rect x="850" y="121" width="3" height="12" fill="#32cd32"/>
<rect x="855" y="117" width="1" height="37" fill="#ff0000"/>
<rect x="854" y="122" width="3" height="10" fill="#ff0000"/>
<rect x="855" y="123" width="1" height="8" fill="#ff4a00"/>
<rect x="859" y="111" width="1" height="23" fill="#32cd32"/>
<rect x="858" y="123" width="3" height="6" fill="#32cd32"/>
<rect x="863" y="117" width="1" height="28" fill="#32cd32"/>
<rect x="862" y="129" width="3" height="6" fill="#32cd32"/>
<rect x="867" y="117" width="1" height="28" fill="#ff0000"/>
<rect x="866" y="132" width="3" height="3" fill="#ff0000"/>
<rect x="867" y="133" width="1" height="1" fill="#ff4a00"/>
<rect x="871" y="133" width="1" height="6" fill="#32cd32"/>
<rect x="870" y="136" width="3" height="2" fill="#32cd32"/>
<rect x="875" y="100" width="1" height="39" fill="#ff0000"/>
<rect x="874" y="107" width="3" height="32" fill="#ff0000"/>
<rect x="875" y="108" width="1" height="30" fill="#ff4a00"/>
<rect x="879" y="46" width="1" height="65" fill="#ff0000"/>
<rect x="878" y="85" width="3" height="24" fill="#ff0000"/>
<rect x="879" y="86" width="1" height="22" fill="#ff4a00"/>
<rect x="883" y="81" width="1" height="57" fill="#32cd32"/>
<rect x="882" y="84" width="3" height="43" fill="#32cd32"/>
<rect x="887" y="123" width="1" height="25" fill="#32cd32"/>
<rect x="886" y="126" width="3" height="16" fill="#32cd32"/>
<rect x="891" y="134" width="1" height="35" fill="#32cd32"/>
<rect x="890" y="141" width="3" height="12" fill="#32cd32"/>
<rect x="895" y="150" width="1" height="10" fill="#32cd32"/>
<rect x="894" y="150" width="3" height="10" fill="#32cd32"/>
<rect x="899" y="152" width="1" height="25" fill="#32cd32"/>
<rect x="898" y="159" width="3" height="17" fill="#32cd32"/>
<rect x="903" y="133" width="1" height="50" fill="#ff0000"/>
<rect x="902" y="154" width="3" height="21" fill="#ff0000"/>
<rect x="903" y="155" width="1" height="19" fill="#ff4a00"/>
<rect x="907" y="143" width="1" height="44" fill="#32cd32"/>
<rect x="906" y="153" width="3" height="4" fill="#32cd32"/>
<rect x="911" y="146" width="1" height="39" fill="#32cd32"/>
<rect x="910" y="155" width="3" height="24" fill="#32cd32"/>
<rect x="915" y="175" width="1" height="12" fill="#32cd32"/>
<rect x="914" y="178" width="3" height="9" fill="#32cd32"/>
<rect x="919" y="180" width="1" height="7" fill="#32cd32"/>
<rect x="918" y="181" width="3" height="4" fill="#32cd32"/>
<rect x="923" y="184" width="1" height="29" fill="#32cd32"/>
<rect x="922" y="184" width="3" height="23" fill="#32cd32"/>
</g>
<rect x="1166" y="24" width="39" height="566" fill="#ffffff"/>
<rect x="0" y="419" width="1166" height="1" fill="#fff"/>
<rect x="0" y="493" width="1166" height="1" fill="#fff"/>
<g shape-rendering="crispEdges">
<rect x="2" y="454" width="3" height="26" fill="#c0c0c0"/>
<rect x="6" y="454" width="3" height="25" fill="#c0c0c0"/>
<rect x="10" y="454" width="3" height="24" fill="#c0c0c0"/>
<rect x="14" y="454" width="3" height="23" fill="#c0c0c0"/>
<rect x="18" y="454" width="3" height="22" fill="#c0c0c0"/>
<rect x="22" y="454" width="3" height="20" fill="#c0c0c0"/>
<rect x="26" y="454" width="3" height="20" fill="#c0c0c0"/>
<rect x="30" y="454" width="3" height="20" fill="#c0c0c0"/>
<rect x="34" y="454" width="3" height="19" fill="#c0c0c0"/>
<rect x="38" y="454" width="3" height="17" fill="#c0c0c0"/>
<rect x="42" y="454" width="3" height="15" fill="#c0c0c0"/>
<rect x="46" y="454" width="3" height="14" fill="#c0c0c0"/>
<rect x="50" y="454" width="3" height="14" fill="#c0c0c0"/>
<rect x="54" y="454" width="3" height="14" fill="#c0c0c0"/>
<rect x="58" y="454" width="3" height="14" fill="#c0c0c0"/>
<rect x="62" y="454" width="3" height="14" fill="#c0c0c0"/>
<rect x="66" y="454" width="3" height="13" fill="#c0c0c0"/>
<rect x="70" y="454" width="3" height="12" fill="#c0c0c0"/>
<rect x="74" y="454" width="3" height="11" fill="#c0c0c0"/>
<rect x="78" y="454" width="3" height="10" fill="#c0c0c0"/>
<rect x="82" y="454" width="3" height="10" fill="#c0c0c0"/>
<rect x="86" y="454" width="3" height="13" fill="#c0c0c0"/>
<rect x="90" y="454" width="3" height="16" fill="#c0c0c0"/>
<rect x="94" y="454" width="3" height="20" fill="#c0c0c0"/>
<rect x="98" y="454" width="3" height="24" fill="#c0c0c0"/>
<rect x="102" y="454" width="3" height="27" fill="#c0c0c0"/>
<rect x="106" y="454" width="3" height="26" fill="#c0c0c0"/>
<rect x="110" y="454" width="3" height="24" fill="#c0c0c0"/>
<rect x="114" y="454" width="3" height="21" fill="#c0c0c0"/>
<rect x="118" y="454" width="3" height="20" fill="#c0c0c0"/>
<rect x="122" y="454" width="3" height="17" fill="#c0c0c0"/>
<rect x="126" y="454" width="3" height="14" fill="#c0c0c0"/>
<rect x="130" y="454" width="3" height="12" fill="#c0c0c0"/>
<rect x="134" y="454" width="3" height="10" fill="#c0c0c0"/>
<rect x="138" y="454" width="3" height="6" fill="#c0c0c0"/>
<rect x="142" y="454" width="3" height="2" fill="#c0c0c0"/>
<rect x="146" y="450" width="3" height="4" fill="#c0c0c0"/>
<rect x="150" y="447" width="3" height="7" fill="#c0c0c0"/>
<rect x="154" y="445" width="3" height="9" fill="#c0c0c0"/>
<rect x="158" y="444" width="3" height="10" fill="#c0c0c0"/>
<rect x="162" y="445" width="3" height="9" fill="#c0c0c0"/>
<rect x="166" y="446" width="3" height="8" fill="#c0c0c0"/>
<rect x="170" y="446" width="3" height="8" fill="#c0c0c0"/>
<rect x="174" y="447" width="3" height="7" fill="#c0c0c0"/>
<rect x="178" y="447" width="3" height="7" fill="#c0c0c0"/>
<rect x="182" y="449" width="3" height="5" fill="#c0c0c0"/>
<rect x="186" y="450" width="3" height="4" fill="#c0c0c0"/>
<rect x="190" y="453" width="3" height="1" fill="#c0c0c0"/>
<rect x="194" y="454" width="3" height="2" fill="#c0c0c0"/>
<rect x="198" y="454" width="3" height="4" fill="#c0c0c0"/>
<rect x="202" y="454" width="3" height="6" fill="#c0c0c0"/>
<rect x="206" y="454" width="3" height="8" fill="#c0c0c0"/>
<rect x="210" y="454" width="3" height="10" fill="#c0c0c0"/>
<rect x="214" y="454" width="3" height="9" fill="#c0c0c0"/>
<rect x="218" y="454" width="3" height="9" fill="#c0c0c0"/>
<rect x="222" y="454" width="3" height="9" fill="#c0c0c0"/>
<rect x="226" y="454" width="3" height="9" fill="#c0c0c0"/>
<rect x="230" y="454" width="3" height="9" fill="#c0c0c0"/>
<rect x="234" y="454" width="3" height="12" fill="#c0c0c0"/>
<rect x="238" y="454" width="3" height="12" fill="#c0c0c0"/>
<rect x="242" y="454" width="3" height="11" fill="#c0c0c0"/>
<rect x="246" y="454" width="3" height="10" fill="#c0c0c0"/>
<rect x="250" y="454" width="3" height="8" fill="#c0c0c0"/>
<rect x="254" y="454" width="3" height="7" fill="#c0c0c0"/>
<rect x="258" y="454" width="3" height="6" fill="#c0c0c0"/>
<rect x="262" y="454" width="3" height="4" fill="#c0c0c0"/>
<rect x="266" y="454" width="3" height="3" fill="#c0c0c0"/>
<rect x="270" y="454" width="3" height="2" fill="#c0c0c0"/>
<rect x="274" y="453" width="3" height="1" fill="#c0c0c0"/>
<rect x="278" y="452" width="3" height="2" fill="#c0c0c0"/>
<rect x="282" y="449" width="3" height="5" fill="#c0c0c0"/>
<rect x="286" y="446" width="3" height="8" fill="#c0c0c0"/>
<rect x="290" y="444" width="3" height="10" fill="#c0c0c0"/>
<rect x="294" y="442" width="3" height="12" fill="#c0c0c0"/>
<rect x="298" y="441" width="3" height="13" fill="#c0c0c0"/>
<rect x="302" y="438" width="3" height="16" fill="#c0c0c0"/>
<rect x="306" y="435" width="3" height="19" fill="#c0c0c0"/>
<rect x="310" y="434" width="3" height="20" fill="#c0c0c0"/>
<rect x="314" y="434" width="3" height="20" fill="#c0c0c0"/>
<rect x="318" y="434" width="3" height="20" fill="#c0c0c0"/>
<rect x="322" y="433" width="3" height="21" fill="#c0c0c0"/>
<rect x="326" y="433" width="3" height="21" fill="#c0c0c0"/>
<rect x="330" y="432" width="3" height="22" fill="#c0c0c0"/>
<rect x="334" y="432" width="3" height="22" fill="#c0c0c0"/>
<rect x="338" y="431" width="3" height="23" fill="#c0c0c0"/>
<rect x="342" y="432" width="3" height="22" fill="#c0c0c0"/>
<rect x="346" y="432" width="3" height="22" fill="#c0c0c0"/>
<rect x="350" y="435" width="3" height="19" fill="#c0c0c0"/>
<rect x="354" y="437" width="3" height="17" fill="#c0c0c0"/>
<rect x="358" y="441" width="3" height="13" fill="#c0c0c0"/>
<rect x="362" y="444" width="3" height="10" fill="#c0c0c0"/>
<rect x="366" y="447" width="3" height="7" fill="#c0c0c0"/>
<rect x="370" y="448" width="3" height="6" fill="#c0c0c0"/>
<rect x="374" y="451" width="3" height="3" fill="#c0c0c0"/>
<rect x="378" y="454" width="3" height="1" fill="#c0c0c0"/>
<rect x="382" y="454" width="3" height="5" fill="#c0c0c0"/>
<rect x="386" y="454" width="3" height="7" fill="#c0c0c0"/>
<rect x="390" y="454" width="3" height="8" fill="#c0c0c0"/>
<rect x="394" y="454" width="3" height="9" fill="#c0c0c0"/>
<rect x="398" y="454" width="3" height="10" fill="#c0c0c0"/>
<rect x="402" y="454" width="3" height="13" fill="#c0c0c0"/>
<rect x="406" y="454" width="3" height="14" fill="#c0c0c0"/>
<rect x="410" y="454" width="3" height="16" fill="#c0c0c0"/>
<rect x="414" y="454" width="3" height="18" fill="#c0c0c0"/>
<rect x="418" y="454" width="3" height="19" fill="#c0c0c0"/>
<rect x="422" y="454" width="3" height="20" fill="#c0c0c0"/>
<rect x="426" y="454" width="3" height="22" fill="#c0c0c0"/>
<rect x="430" y="454" width="3" height="23" fill="#c0c0c0"/>
<rect x="434" y="454" width="3" height="26" fill="#c0c0c0"/>
<rect x="438" y="454" width="3" height="27" fill="#c0c0c0"/>
<rect x="442" y="454" width="3" height="27" fill="#c0c0c0"/>
<rect x="446" y="454" width="3" height="28" fill="#c0c0c0"/>
<rect x="450" y="454" width="3" height="29" fill="#c0c0c0"/>
<rect x="454" y="454" width="3" height="30" fill="#c0c0c0"/>
<rect x="458" y="454" width="3" height="33" fill="#c0c0c0"/>
<rect x="462" y="454" width="3" height="35" fill="#c0c0c0"/>
<rect x="466" y="454" width="3" height="35" fill="#c0c0c0"/>
<rect x="470" y="454" width="3" height="32" fill="#c0c0c0"/>
<rect x="474" y="454" width="3" height="28" fill="#c0c0c0"/>
<rect x="478" y="454" width="3" height="25" fill="#c0c0c0"/>
<rect x="482" y="454" width="3" height="22" fill="#c0c0c0"/>
<rect x="486" y="454" width="3" height="19" fill="#c0c0c0"/>
<rect x="490" y="454" width="3" height="18" fill="#c0c0c0"/>
<rect x="494" y="454" width="3" height="18" fill="#c0c0c0"/>
<rect x="498" y="454" width="3" height="15" fill="#c0c0c0"/>
<rect x="502" y="454" width="3" height="13" fill="#c0c0c0"/>
<rect x="506" y="454" width="3" height="12" fill="#c0c0c0"/>
<rect x="510" y="454" width="3" height="12" fill="#c0c0c0"/>
<rect x="514" y="454" width="3" height="12" fill="#c0c0c0"/>
<rect x="518" y="454" width="3" height="11" fill="#c0c0c0"/>
<rect x="522" y="454" width="3" height="8" fill="#c0c0c0"/>
<rect x="526" y="454" width="3" height="4" fill="#c0c0c0"/>
<rect x="530" y="454" width="3" height="2" fill="#c0c0c0"/>
<rect x="534" y="453" width="3" height="1" fill="#c0c0c0"/>
<rect x="538" y="451" width="3" height="3" fill="#c0c0c0"/>
<rect x="542" y="450" width="3" height="4" fill="#c0c0c0"/>
<rect x="546" y="448" width="3" height="6" fill="#c0c0c0"/>
<rect x="550" y="447" width="3" height="7" fill="#c0c0c0"/>
<rect x="554" y="446" width="3" height="8" fill="#c0c0c0"/>
<rect x="558" y="445" width="3" height="9" fill="#c0c0c0"/>
<rect x="562" y="446" width="3" height="8" fill="#c0c0c0"/>
<rect x="566" y="447" width="3" height="7" fill="#c0c0c0"/>
<rect x="570" y="447" width="3" height="7" fill="#c0c0c0"/>
<rect x="574" y="450" width="3" height="4" fill="#c0c0c0"/>
<rect x="578" y="451" width="3" height="3" fill="#c0c0c0"/>
<rect x="582" y="452" width="3" height="2" fill="#c0c0c0"/>
<rect x="586" y="453" width="3" height="1" fill="#c0c0c0"/>
<rect x="590" y="453" width="3" height="1" fill="#c0c0c0"/>
<rect x="594" y="450" width="3" height="4" fill="#c0c0c0"/>
<rect x="598" y="448" width="3" height="6" fill="#c0c0c0"/>
<rect x="602" y="449" width="3" height="5" fill="#c0c0c0"/>
<rect x="606" y="450" width="3" height="4" fill="#c0c0c0"/>
<rect x="610" y="451" width="3" height="3" fill="#c0c0c0"/>
<rect x="614" y="452" width="3" height="2" fill="#c0c0c0"/>
<rect x="618" y="452" width="3" height="2" fill="#c0c0c0"/>
<rect x="622" y="452" width="3" height="2" fill="#c0c0c0"/>
<rect x="626" y="453" width="3" height="1" fill="#c0c0c0"/>
<rect x="630" y="454" width="3" height="1" fill="#c0c0c0"/>
<rect x="634" y="454" width="3" height="3" fill="#c0c0c0"/>
<rect x="638" y="454" width="3" height="4" fill="#c0c0c0"/>
<rect x="642" y="454" width="3" height="6" fill="#c0c0c0"/>
<rect x="646" y="454" width="3" height="10" fill="#c0c0c0"/>
<rect x="650" y="454" width="3" height="15" fill="#c0c0c0"/>
<rect x="654" y="454" width="3" height="18" fill="#c0c0c0"/>
<rect x="658" y="454" width="3" height="18" fill="#c0c0c0"/>
<rect x="662" y="454" width="3" height="16" fill="#c0c0c0"/>
<rect x="666" y="454" width="3" height="15" fill="#c0c0c0"/>
<rect x="670" y="454" width="3" height="13" fill="#c0c0c0"/>
<rect x="674" y="454" width="3" height="13" fill="#c0c0c0"/>
<rect x="678" y="454" width="3" height="13" fill="#c0c0c0"/>
<rect x="682" y="454" width="3" height="11" fill="#c0c0c0"/>
<rect x="686" y="454" width="3" height="9" fill="#c0c0c0"/>
<rect x="690" y="454" width="3" height="7" fill="#c0c0c0"/>
<rect x="694" y="454" width="3" height="5" fill="#c0c0c0"/>
<rect x="698" y="454" width="3" height="5" fill="#c0c0c0"/>
<rect x="702" y="454" width="3" height="4" fill="#c0c0c0"/>
<rect x="706" y="454" width="3" height="4" fill="#c0c0c0"/>
<rect x="710" y="454" width="3" height="3" fill="#c0c0c0"/>
<rect x="714" y="454" width="3" height="1" fill="#c0c0c0"/>
<rect x="718" y="452" width="3" height="2" fill="#c0c0c0"/>
<rect x="722" y="451" width="3" height="3" fill="#c0c0c0"/>
<rect x="726" y="451" width="3" height="3" fill="#c0c0c0"/>
<rect x="730" y="450" width="3" height="4" fill="#c0c0c0"/>
<rect x="734" y="448" width="3" height="6" fill="#c0c0c0"/>
<rect x="738" y="447" width="3" height="7" fill="#c0c0c0"/>
<rect x="742" y="448" width="3" height="6" fill="#c0c0c0"/>
<rect x="746" y="447" width="3" height="7" fill="#c0c0c0"/>
<rect x="750" y="447" width="3" height="7" fill="#c0c0c0"/>
<rect x="754" y="445" width="3" height="9" fill="#c0c0c0"/>
<rect x="758" y="444" width="3" height="10" fill="#c0c0c0"/>
<rect x="762" y="442" width="3" height="12" fill="#c0c0c0"/>
<rect x="766" y="439" width="3" height="15" fill="#c0c0c0"/>
<rect x="770" y="436" width="3" height="18" fill="#c0c0c0"/>
<rect x="774" y="433" width="3" height="21" fill="#c0c0c0"/>
<rect x="778" y="433" width="3" height="21" fill="#c0c0c0"/>
<rect x="782" y="435" width="3" height="19" fill="#c0c0c0"/>
<rect x="786" y="435" width="3" height="19" fill="#c0c0c0"/>
<rect x="790" y="434" width="3" height="20" fill="#c0c0c0"/>
<rect x="794" y="436" width="3" height="18" fill="#c0c0c0"/>
<rect x="798" y="437" width="3" height="17" fill="#c0c0c0"/>
<rect x="802" y="442" width="3" height="12" fill="#c0c0c0"/>
<rect x="806" y="445" width="3" height="9" fill="#c0c0c0"/>
<rect x="810" y="445" width="3" height="9" fill="#c0c0c0"/>
<rect x="814" y="442" width="3" height="12" fill="#c0c0c0"/>
<rect x="818" y="440" width="3" height="14" fill="#c0c0c0"/>
<rect x="822" y="437" width="3" height="17" fill="#c0c0c0"/>
<rect x="826" y="436" width="3" height="18" fill="#c0c0c0"/>
<rect x="830" y="433" width="3" height="21" fill="#c0c0c0"/>
<rect x="834" y="430" width="3" height="24" fill="#c0c0c0"/>
<rect x="838" y="428" width="3" height="26" fill="#c0c0c0"/>
<rect x="842" y="426" width="3" height="28" fill="#c0c0c0"/>
<rect x="846" y="424" width="3" height="30" fill="#c0c0c0"/>
<rect x="850" y="424" width="3" height="30" fill="#c0c0c0"/>
<rect x="854" y="424" width="3" height="30" fill="#c0c0c0"/>
<rect x="858" y="425" width="3" height="29" fill="#c0c0c0"/>
<rect x="862" y="426" width="3" height="28" fill="#c0c0c0"/>
<rect x="866" y="427" width="3" height="27" fill="#c0c0c0"/>
<rect x="870" y="428" width="3" height="26" fill="#c0c0c0"/>
<rect x="874" y="428" width="3" height="26" fill="#c0c0c0"/>
<rect x="878" y="427" width="3" height="27" fill="#c0c0c0"/>
<rect x="882" y="428" width="3" height="26" fill="#c0c0c0"/>
<rect x="886" y="431" width="3" height="23" fill="#c0c0c0"/>
<rect x="890" y="434" width="3" height="20" fill="#c0c0c0"/>
<rect x="894" y="437" width="3" height="17" fill="#c0c0c0"/>
<rect x="898" y="440" width="3" height="14" fill="#c0c0c0"/>
<rect x="902" y="442" width="3" height="12" fill="#c0c0c0"/>
<rect x="906" y="443" width="3" height="11" fill="#c0c0c0"/>
<rect x="910" y="446" width="3" height="8" fill="#c0c0c0"/>
<rect x="914" y="449" width="3" height="5" fill="#c0c0c0"/>
<rect x="918" y="451" width="3" height="3" fill="#c0c0c0"/>
<rect x="922" y="454" width="3" height="1" fill="#c0c0c0"/>
</g>
<clipPath id="mclip"><rect x="3" y="421" width="1162" height="71"/></clipPath>
<g clip-path="url(#mclip)">
<polyline points="-0.5,477.5 3.5,477.9 7.5,478.3 11.5,478.4 15.5,478.4 19.5,478.1 23.5,477.4 27.5,476.7 31.5,475.9 35.5,475.0 39.5,474.0 43.5,473.0 47.5,471.8 51.5,470.8 55.5,470.0 59.5,469.3 63.5,468.6 67.5,467.8 71.5,467.1 75.5,466.4 79.5,465.8 83.5,465.5 87.5,465.4 91.5,465.6 95.5,466.3 99.5,467.4 103.5,468.9 107.5,470.4 111.5,471.9 115.5,473.1 119.5,474.2 123.5,474.6 127.5,474.4 131.5,473.4 135.5,471.8 139.5,469.5 143.5,466.9 147.5,463.9 151.5,460.9 155.5,457.7 159.5,454.9 163.5,452.5 167.5,450.4 171.5,448.6 175.5,447.3 179.5,446.4 183.5,446.3 187.5,446.7 191.5,447.6 195.5,448.7 199.5,450.1 203.5,451.5 207.5,453.2 211.5,455.0 215.5,456.6 219.5,458.0 223.5,459.4 227.5,460.4 231.5,461.3 235.5,462.1 239.5,462.8 243.5,463.1 247.5,463.1 251.5,463.0 255.5,462.7 259.5,462.3 263.5,461.8 267.5,461.0 271.5,459.9 275.5,458.5 279.5,457.1 283.5,455.6 287.5,454.0 291.5,452.2 295.5,450.4 299.5,448.6 303.5,446.7 307.5,444.4 311.5,442.4 315.5,440.5 319.5,438.8 323.5,437.4 327.5,436.1 331.5,435.0 335.5,434.0 339.5,433.2 343.5,432.9 347.5,432.6 351.5,432.7 355.5,433.1 359.5,433.9 363.5,435.2 367.5,436.7 371.5,438.6 375.5,440.7 379.5,443.2 383.5,446.1 387.5,448.8 391.5,451.5 395.5,453.8 399.5,456.0 403.5,458.1 407.5,460.2 411.5,462.3 415.5,464.2 419.5,465.8 423.5,467.3 427.5,468.7 431.5,470.3 435.5,472.1 439.5,473.6 443.5,475.1 447.5,476.4 451.5,477.6 455.5,478.8 459.5,480.2 463.5,481.7 467.5,483.0 471.5,483.6 475.5,483.7 479.5,483.4 483.5,482.7 487.5,481.6 491.5,480.3 495.5,478.5 499.5,476.3 503.5,473.9 507.5,471.7 511.5,470.0 515.5,468.6 519.5,467.4 523.5,466.2 527.5,464.7 531.5,462.9 535.5,461.2 539.5,459.6 543.5,457.9 547.5,456.0 551.5,454.0 555.5,452.0 559.5,450.2 563.5,449.0 567.5,448.1 571.5,447.5 575.5,447.3 579.5,447.4 583.5,447.8 587.5,448.5 591.5,449.3 595.5,449.9 599.5,450.1 603.5,450.4 607.5,450.8 611.5,450.9 615.5,451.0 619.5,450.9 623.5,450.8 627.5,450.9 631.5,451.3 635.5,452.1 639.5,452.9 643.5,453.9 647.5,455.3 651.5,457.1 655.5,459.3 659.5,461.4 663.5,463.2 667.5,464.7 671.5,465.8 675.5,466.8 679.5,467.6 683.5,467.7 687.5,467.1 691.5,465.8 695.5,464.3 699.5,463.0 703.5,461.8 707.5,460.8 711.5,459.7 715.5,458.4 719.5,457.1 723.5,455.8 727.5,454.9 731.5,454.0 735.5,453.0 739.5,451.9 743.5,450.9 747.5,449.9 751.5,449.2 755.5,448.4 759.5,447.6 763.5,446.6 767.5,445.3 771.5,443.9 775.5,442.3 779.5,440.6 783.5,439.3 787.5,437.9 791.5,436.7 795.5,435.8 799.5,435.2 803.5,435.5 807.5,436.6 811.5,438.0 815.5,439.1 819.5,439.6 823.5,439.8 827.5,440.1 831.5,439.8 835.5,439.1 839.5,437.5 843.5,435.3 847.5,433.0 851.5,431.0 855.5,429.3 859.5,427.9 863.5,426.8 867.5,426.1 871.5,425.9 875.5,425.9 879.5,426.0 883.5,426.4 887.5,427.1 891.5,428.2 895.5,429.5 899.5,431.1 903.5,432.8 907.5,434.5 911.5,436.5 915.5,438.9 919.5,441.4 923.5,443.9" fill="none" stroke="#ff0000" stroke-width="1" shape-rendering="crispEdges"/>
</g>
<g shape-rendering="crispEdges">
<line x1="4" y1="517.5" x2="1165" y2="517.5" stroke="#c0c0c0" stroke-dasharray="3,3"/>
<line x1="4" y1="546.5" x2="1165" y2="546.5" stroke="#c0c0c0" stroke-dasharray="3,3"/>
</g>
<clipPath id="rclip"><rect x="3" y="495" width="1162" height="73"/></clipPath>
<g clip-path="url(#rclip)">
<polyline points="-0.5,542.4 3.5,542.1 7.5,541.8 11.5,539.6 15.5,541.0 19.5,539.6 23.5,536.6 27.5,542.4 31.5,541.4 35.5,538.7 39.5,534.0 43.5,535.5 47.5,533.1 51.5,538.4 55.5,539.6 59.5,540.1 63.5,538.3 67.5,534.7 71.5,537.6 75.5,533.6 79.5,534.5 83.5,537.1 87.5,544.9 91.5,545.7 95.5,550.1 99.5,550.5 103.5,550.4 107.5,541.3 111.5,537.0 115.5,534.4 119.5,537.5 123.5,531.1 127.5,530.8 131.5,532.9 135.5,530.6 139.5,526.9 143.5,524.7 147.5,521.1 151.5,522.6 155.5,523.3 159.5,528.1 163.5,530.5 167.5,530.0 171.5,530.3 175.5,530.3 179.5,530.1 183.5,535.3 187.5,532.6 191.5,537.0 195.5,538.7 199.5,539.4 203.5,539.8 207.5,542.3 211.5,541.7 215.5,533.7 219.5,537.3 223.5,536.4 227.5,534.6 231.5,538.0 235.5,542.9 239.5,537.4 243.5,533.7 247.5,532.8 251.5,531.5 255.5,531.6 259.5,532.3 263.5,528.8 267.5,528.9 271.5,531.4 275.5,526.0 279.5,527.8 283.5,523.6 287.5,521.4 291.5,521.0 295.5,520.4 299.5,521.9 303.5,517.6 307.5,515.2 311.5,522.0 315.5,521.9 319.5,521.8 323.5,520.1 327.5,518.5 331.5,520.4 335.5,518.2 339.5,518.6 343.5,520.3 347.5,520.0 351.5,531.8 355.5,528.4 359.5,534.5 363.5,535.7 367.5,535.6 371.5,533.5 375.5,537.1 379.5,540.7 383.5,543.7 387.5,539.1 391.5,538.8 395.5,537.3 399.5,540.8 403.5,543.2 407.5,542.3 411.5,545.1 415.5,545.2 419.5,545.6 423.5,546.0 427.5,547.4 431.5,549.3 435.5,552.3 439.5,548.2 443.5,547.8 447.5,549.0 451.5,550.1 455.5,551.3 459.5,555.2 463.5,552.1 467.5,547.5 471.5,538.7 475.5,534.0 479.5,535.8 483.5,533.7 487.5,534.1 491.5,536.9 495.5,539.0 499.5,532.8 503.5,532.2 507.5,535.5 511.5,537.0 515.5,537.5 519.5,533.6 523.5,527.9 527.5,526.5 531.5,526.8 535.5,526.8 539.5,526.2 543.5,526.6 547.5,524.1 551.5,525.5 555.5,523.5 559.5,523.8 563.5,533.1 567.5,528.8 571.5,530.7 575.5,536.2 579.5,534.1 583.5,534.6 587.5,534.4 591.5,531.1 595.5,524.5 599.5,524.5 603.5,532.4 607.5,531.8 611.5,532.1 615.5,534.6 619.5,531.3 623.5,531.6 627.5,535.5 631.5,534.3 635.5,537.5 639.5,536.9 643.5,540.4 647.5,546.4 651.5,549.1 655.5,547.1 659.5,539.1 663.5,533.3 667.5,534.2 671.5,532.4 675.5,537.3 679.5,536.9 683.5,532.8 687.5,531.4 691.5,528.8 695.5,530.1 699.5,533.3 703.5,531.7 707.5,532.6 711.5,531.3 715.5,527.5 719.5,527.7 723.5,528.2 727.5,529.7 731.5,528.4 735.5,524.5 739.5,524.4 743.5,532.4 747.5,526.0 751.5,530.6 755.5,525.2 759.5,525.0 763.5,523.0 767.5,520.5 771.5,518.5 775.5,517.4 779.5,524.1 783.5,529.7 787.5,526.4 791.5,523.6 795.5,529.1 799.5,528.9 803.5,535.6 807.5,536.0 811.5,529.7 815.5,524.8 819.5,523.7 823.5,523.6 827.5,524.7 831.5,521.6 835.5,520.0 839.5,519.4 843.5,518.9 847.5,519.1 851.5,521.4 855.5,520.3 859.5,521.6 863.5,522.8 867.5,522.6 871.5,523.7 875.5,519.8 879.5,517.4 883.5,525.9 887.5,528.4 891.5,530.3 895.5,531.5 899.5,534.1 903.5,530.7 907.5,531.0 911.5,534.6 915.5,535.9 919.5,535.5 923.5,539.1" fill="none" stroke="#1e90ff" stroke-width="1" shape-rendering="crispEdges"/>
</g>
<g shape-rendering="crispEdges">
<rect x="2.5" y="26.5" width="1163" height="392" fill="none" stroke="#000" stroke-width="1"/>
<rect x="2.5" y="420.5" width="1163" height="72" fill="none" stroke="#000" stroke-width="1"/>
<rect x="2.5" y="494.5" width="1163" height="74" fill="none" stroke="#000" stroke-width="1"/>
<rect x="2" y="179" width="6" height="6" fill="#7cfc00"/>
<rect x="4" y="181" width="2" height="2" fill="#fff"/>
<rect x="1159" y="179" width="6" height="6" fill="#7cfc00"/>
<rect x="1161" y="181" width="2" height="2" fill="#fff"/>
<rect x="2" y="257" width="6" height="6" fill="#0000ff"/>
<rect x="4" y="259" width="2" height="2" fill="#fff"/>
<rect x="1159" y="257" width="6" height="6" fill="#0000ff"/>
<rect x="1161" y="259" width="2" height="2" fill="#fff"/>
</g>
<defs>
<linearGradient id="btop" x1="0" y1="0" x2="0" y2="1"><stop offset="0" stop-color="#5a5af8"/><stop offset="1" stop-color="#2a2ae0"/></linearGradient>
<linearGradient id="bbot" x1="0" y1="0" x2="0" y2="1"><stop offset="0" stop-color="#2c2ce6"/><stop offset="1" stop-color="#0000b8"/></linearGradient>
<linearGradient id="gbtn" x1="0" y1="0" x2="0" y2="1"><stop offset="0" stop-color="#f2f2f2"/><stop offset="1" stop-color="#d4d4d4"/></linearGradient>
</defs>
<g shape-rendering="crispEdges">
<rect x="4" y="42" width="223" height="62" fill="#ffffff"/>
<rect x="3" y="102" width="1" height="1" fill="#ffffff"/>
<rect x="6" y="46" width="52" height="24" fill="url(#btop)"/>
<rect x="173" y="46" width="52" height="24" fill="url(#btop)"/>
<rect x="6" y="70" width="109" height="32" fill="url(#bbot)"/>
<rect x="117" y="70" width="108" height="32" fill="url(#bbot)"/>
<rect x="10" y="70" width="44" height="1" fill="#8c8cf4"/>
<rect x="177" y="70" width="44" height="1" fill="#8c8cf4"/>
<rect x="58" y="46" width="115" height="24" fill="#ffffff"/>
<rect x="60.5" y="46.5" width="110" height="21" fill="#fff" stroke="#a8a8a8"/>
<rect x="61" y="47" width="20" height="20" fill="url(#gbtn)"/>
<rect x="81" y="47" width="1" height="20" fill="#b8b8b8"/>
<rect x="150" y="47" width="20" height="20" fill="url(#gbtn)"/>
<rect x="149" y="47" width="1" height="20" fill="#b8b8b8"/>
</g>
<path d="M67.5 55.3 L73.5 55.3 L70.5 58.3 Z" fill="#5a6fb0"/>
<path d="M156.5 58.3 L162.5 58.3 L159.5 55.3 Z" fill="#5a6fb0"/>
<text x="122.3" y="61" font-size="12.5" fill="#000" textLength="23.8" lengthAdjust="spacingAndGlyphs">0.50</text>
<text x="18.6" y="62" font-size="12.5" fill="#e8e8ff" textLength="25.4" lengthAdjust="spacingAndGlyphs">SELL</text>
<text x="186.6" y="62" font-size="12.5" fill="#e8e8ff" textLength="23.7" lengthAdjust="spacingAndGlyphs">BUY</text>
<text x="26" y="98" font-size="12.5" fill="#fff" font-weight="bold" textLength="24" lengthAdjust="spacingAndGlyphs">0.73</text>
<text x="136.5" y="98" font-size="12.5" fill="#fff" font-weight="bold" textLength="24" lengthAdjust="spacingAndGlyphs">0.73</text>
<text x="55" y="98" font-size="33.5" fill="#fff" textLength="33" lengthAdjust="spacingAndGlyphs">53</text>
<text x="93.7" y="82" font-size="10.5" fill="#fff" font-weight="bold" textLength="6" lengthAdjust="spacingAndGlyphs">1</text>
<text x="166.4" y="98" font-size="33.5" fill="#fff" textLength="33" lengthAdjust="spacingAndGlyphs">55</text>
<text x="204" y="82" font-size="10.5" fill="#fff" font-weight="bold" textLength="7" lengthAdjust="spacingAndGlyphs">2</text>
<path d="M6 36.5 L13 36.5 L9.5 33 Z" fill="#000"/>
<text x="18.9" y="38" font-size="10" fill="#000" textLength="68" lengthAdjust="spacingAndGlyphs">AUDUSD-,Daily</text>
<text x="93.2" y="38" font-size="10" fill="#000" textLength="140.3" lengthAdjust="spacingAndGlyphs">0.73954 0.73962 0.73419 0.73531</text>
<text x="7.8" y="433" font-size="10" fill="#000" textLength="149.5" lengthAdjust="spacingAndGlyphs">MACD(12,26,9) -0.000036 0.002387</text>
<text x="7" y="507" font-size="10" fill="#000" textLength="67.6" lengthAdjust="spacingAndGlyphs">RSI(14) 40.4022</text>
<g shape-rendering="crispEdges">
<rect x="1166" y="52" width="3" height="1" fill="#000"/>
<rect x="1166" y="85" width="3" height="1" fill="#000"/>
<rect x="1166" y="118" width="3" height="1" fill="#000"/>
<rect x="1166" y="151" width="3" height="1" fill="#000"/>
<rect x="1166" y="184" width="3" height="1" fill="#000"/>
<rect x="1166" y="217" width="3" height="1" fill="#000"/>
<rect x="1166" y="250" width="3" height="1" fill="#000"/>
<rect x="1166" y="283" width="3" height="1" fill="#000"/>
<rect x="1166" y="316" width="3" height="1" fill="#000"/>
<rect x="1166" y="349" width="3" height="1" fill="#000"/>
<rect x="1166" y="382" width="3" height="1" fill="#000"/>
<rect x="1166" y="415" width="3" height="1" fill="#000"/>
<rect x="1166" y="422" width="2" height="1" fill="#000"/>
<rect x="1166" y="454" width="2" height="1" fill="#000"/>
<rect x="1166" y="491" width="2" height="1" fill="#000"/>
<rect x="1166" y="495" width="2" height="1" fill="#000"/>
<rect x="1166" y="567" width="2" height="1" fill="#000"/>
</g>
<text x="1171" y="56" font-size="9.5" fill="#000" letter-spacing="-0.25">0.76480</text>
<text x="1171" y="89" font-size="9.5" fill="#000" letter-spacing="-0.25">0.75850</text>
<text x="1171" y="122" font-size="9.5" fill="#000" letter-spacing="-0.25">0.75220</text>
<text x="1171" y="155" font-size="9.5" fill="#000" letter-spacing="-0.25">0.74590</text>
<text x="1171" y="188" font-size="9.5" fill="#000" letter-spacing="-0.25">0.73960</text>
<text x="1171" y="221" font-size="9.5" fill="#000" letter-spacing="-0.25">0.73330</text>
<text x="1171" y="254" font-size="9.5" fill="#000" letter-spacing="-0.25">0.72685</text>
<text x="1171" y="287" font-size="9.5" fill="#000" letter-spacing="-0.25">0.72055</text>
<text x="1171" y="320" font-size="9.5" fill="#000" letter-spacing="-0.25">0.71425</text>
<text x="1171" y="353" font-size="9.5" fill="#000" letter-spacing="-0.25">0.70795</text>
<text x="1171" y="386" font-size="9.5" fill="#000" letter-spacing="-0.25">0.70165</text>
<text x="1171" y="419" font-size="9.5" fill="#000" letter-spacing="-0.25">0.69535</text>
<text x="1169" y="431" font-size="9.5" fill="#000" letter-spacing="-0.25">0.008061</text>
<text x="1169" y="458" font-size="9.5" fill="#000" letter-spacing="-0.25">0.00</text>
<text x="1169" y="489" font-size="9.5" fill="#000" letter-spacing="-0.25">-0.00928</text>
<text x="1169" y="505.0" font-size="9.5" fill="#000" letter-spacing="-0.25">100</text>
<text x="1168" y="521.0" font-size="9.5" fill="#000" letter-spacing="-0.25">70</text>
<text x="1168" y="550.0" font-size="9.5" fill="#000" letter-spacing="-0.25">30</text>
<text x="1169" y="565.0" font-size="9.5" fill="#000" letter-spacing="-0.25">0</text>
<rect x="1167" y="97" width="38" height="11" fill="#ff0000" shape-rendering="crispEdges"/>
<text x="1171" y="106" font-size="9.5" fill="#fff" letter-spacing="-0.25">0.75512</text>
<rect x="1167" y="176" width="38" height="11" fill="#7cfc00" shape-rendering="crispEdges"/>
<text x="1171" y="185" font-size="9.5" fill="#fff" letter-spacing="-0.25">0.74002</text>
<rect x="1167" y="201" width="38" height="11" fill="#000000" shape-rendering="crispEdges"/>
<text x="1171" y="210" font-size="9.5" fill="#fff" letter-spacing="-0.25">0.73531</text>
<rect x="1167" y="254" width="38" height="11" fill="#0000ff" shape-rendering="crispEdges"/>
<text x="1171" y="263" font-size="9.5" fill="#fff" letter-spacing="-0.25">0.72504</text>
<rect x="1167" y="332" width="38" height="11" fill="#0000cd" shape-rendering="crispEdges"/>
<text x="1171" y="341" font-size="9.5" fill="#fff" letter-spacing="-0.25">0.71013</text>
<rect x="1167" y="407" width="38" height="11" fill="#0000ff" shape-rendering="crispEdges"/>
<text x="1171" y="416" font-size="9.5" fill="#fff" letter-spacing="-0.25">0.69582</text>
<g shape-rendering="crispEdges">
<rect x="3" y="569" width="1" height="3" fill="#000"/>
<rect x="67" y="569" width="1" height="3" fill="#000"/>
<rect x="131" y="569" width="1" height="3" fill="#000"/>
<rect x="195" y="569" width="1" height="3" fill="#000"/>
<rect x="259" y="569" width="1" height="3" fill="#000"/>
<rect x="323" y="569" width="1" height="3" fill="#000"/>
<rect x="387" y="569" width="1" height="3" fill="#000"/>
<rect x="451" y="569" width="1" height="3" fill="#000"/>
<rect x="515" y="569" width="1" height="3" fill="#000"/>
<rect x="579" y="569" width="1" height="3" fill="#000"/>
<rect x="643" y="569" width="1" height="3" fill="#000"/>
<rect x="707" y="569" width="1" height="3" fill="#000"/>
<rect x="771" y="569" width="1" height="3" fill="#000"/>
<rect x="835" y="569" width="1" height="3" fill="#000"/>
<rect x="899" y="569" width="1" height="3" fill="#000"/>
</g>
<text x="2" y="581" font-size="9.8" fill="#000" textLength="47.3" lengthAdjust="spacingAndGlyphs">23 Jul 2021</text>
<text x="66" y="581" font-size="9.8" fill="#000" textLength="53.099999999999994" lengthAdjust="spacingAndGlyphs">11 Aug 2021</text>
<text x="130" y="581" font-size="9.8" fill="#000" textLength="53.099999999999994" lengthAdjust="spacingAndGlyphs">30 Aug 2021</text>
<text x="194" y="581" font-size="9.8" fill="#000" textLength="51.4" lengthAdjust="spacingAndGlyphs">17 Sep 2021</text>
<text x="258" y="581" font-size="9.8" fill="#000" textLength="45.599999999999994" lengthAdjust="spacingAndGlyphs">6 Oct 2021</text>
<text x="322" y="581" font-size="9.8" fill="#000" textLength="51.199999999999996" lengthAdjust="spacingAndGlyphs">25 Oct 2021</text>
<text x="386" y="581" font-size="9.8" fill="#000" textLength="54.0" lengthAdjust="spacingAndGlyphs">12 Nov 2021</text>
<text x="450" y="581" font-size="9.8" fill="#000" textLength="46.8" lengthAdjust="spacingAndGlyphs">1 Dec 2021</text>
<text x="514" y="581" font-size="9.8" fill="#000" textLength="52.0" lengthAdjust="spacingAndGlyphs">20 Dec 2021</text>
<text x="578" y="581" font-size="9.8" fill="#000" textLength="45.199999999999996" lengthAdjust="spacingAndGlyphs">7 Jan 2022</text>
<text x="642" y="581" font-size="9.8" fill="#000" textLength="50.4" lengthAdjust="spacingAndGlyphs">26 Jan 2022</text>
<text x="706" y="581" font-size="9.8" fill="#000" textLength="52.0" lengthAdjust="spacingAndGlyphs">14 Feb 2022</text>
<text x="770" y="581" font-size="9.8" fill="#000" textLength="47.8" lengthAdjust="spacingAndGlyphs">4 Mar 2022</text>
<text x="834" y="581" font-size="9.8" fill="#000" textLength="52.0" lengthAdjust="spacingAndGlyphs">23 Mar 2022</text>
<text x="898" y="581" font-size="9.8" fill="#000" textLength="50.8" lengthAdjust="spacingAndGlyphs">11 Apr 2022</text>
<g shape-rendering="crispEdges">
<rect x="0" y="589" width="1205" height="1" fill="#e6e6e6"/>
<rect x="0" y="590" width="1205" height="1" fill="#fbfbfb"/>
<rect x="0" y="591" width="1205" height="1" fill="#000"/>
<rect x="0" y="592" width="1205" height="22" fill="#f0f0f0"/>
<rect x="0" y="611" width="1205" height="1" fill="#fafafa"/>
<rect x="212" y="591" width="109" height="19" fill="#000"/>
<rect x="213" y="590" width="107" height="19" fill="#fff"/>
<rect x="211" y="592" width="1" height="17" fill="#fff"/>
<rect x="104" y="594" width="1" height="14" fill="#5a5a5a"/>
<rect x="429" y="594" width="1" height="14" fill="#5a5a5a"/>
<rect x="537" y="594" width="1" height="14" fill="#5a5a5a"/>
<rect x="648" y="594" width="1" height="14" fill="#5a5a5a"/>
<rect x="757" y="594" width="1" height="14" fill="#5a5a5a"/>
<rect x="836" y="594" width="1" height="14" fill="#5a5a5a"/>
<rect x="924" y="594" width="1" height="14" fill="#5a5a5a"/>
<rect x="1009" y="594" width="1" height="14" fill="#5a5a5a"/>
<rect x="1088" y="594" width="1" height="14" fill="#5a5a5a"/>
<rect x="1164" y="594" width="1" height="14" fill="#5a5a5a"/>
</g>
<text x="15.3" y="605.5" font-size="12" fill="#6e6e6e" textLength="78" lengthAdjust="spacingAndGlyphs">USDX,Weekly</text>
<text x="115.3" y="605.5" font-size="12" fill="#6e6e6e" textLength="85" lengthAdjust="spacingAndGlyphs">EURUSD-,Daily</text>
<text x="332.4" y="605.5" font-size="12" fill="#6e6e6e" textLength="83.3" lengthAdjust="spacingAndGlyphs">USDCHF-,Daily</text>
<text x="439.4" y="605.5" font-size="12" fill="#6e6e6e" textLength="85.6" lengthAdjust="spacingAndGlyphs">USDCAD-,Daily</text>
<text x="548.1" y="605.5" font-size="12" fill="#6e6e6e" textLength="87.7" lengthAdjust="spacingAndGlyphs">USDCNH-,Daily</text>
<text x="659.3" y="605.5" font-size="12" fill="#6e6e6e" textLength="85.2" lengthAdjust="spacingAndGlyphs">XAUUSD-,Daily</text>
<text x="767.2" y="605.5" font-size="12" fill="#6e6e6e" textLength="56.5" lengthAdjust="spacingAndGlyphs">UKOil-,H4</text>
<text x="848.2" y="605.5" font-size="12" fill="#6e6e6e" textLength="63.8" lengthAdjust="spacingAndGlyphs">DJ30-,Daily</text>
<text x="935.4" y="605.5" font-size="12" fill="#6e6e6e" textLength="60.9" lengthAdjust="spacingAndGlyphs">UK100-,H1</text>
<text x="1020.3" y="605.5" font-size="12" fill="#6e6e6e" textLength="54.8" lengthAdjust="spacingAndGlyphs">USOil-,H1</text>
<text x="1098.4" y="605.5" font-size="12" fill="#6e6e6e" textLength="54.3" lengthAdjust="spacingAndGlyphs">HK50-,H1</text>
<text x="222" y="605.5" font-size="12" fill="#000" textLength="87" lengthAdjust="spacingAndGlyphs">AUDUSD-,Daily</text>
<path d="M1184 597 L1184 604 L1180.5 600.5 Z" fill="#9a9a9a"/>
<path d="M1200 597 L1200 604 L1203.5 600.5 Z" fill="#000"/>
</svg>
</body></html>
